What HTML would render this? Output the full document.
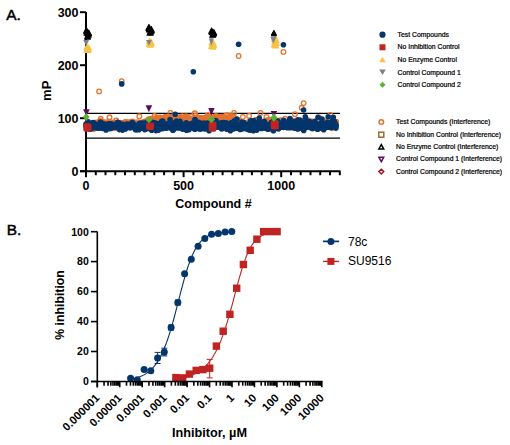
<!DOCTYPE html>
<html><head><meta charset="utf-8"><style>
html,body{margin:0;padding:0;background:#fff;width:510px;height:445px;overflow:hidden}
svg{display:block}
</style></head><body>
<svg width="510" height="445" viewBox="0 0 510 445">
<g stroke="#000" stroke-width="2" fill="none">
<path d="M86.0 12V177"/>
<path d="M80 171.2H340.5"/>
<path d="M80 171.2H86.0"/>
<path d="M80 118.2H86.0"/>
<path d="M80 65.2H86.0"/>
<path d="M80 12.2H86.0"/>
<path d="M86.0 171.2V177.2"/>
<path d="M95.8 171.2V175.2"/>
<path d="M105.5 171.2V175.2"/>
<path d="M115.3 171.2V175.2"/>
<path d="M125.0 171.2V175.2"/>
<path d="M134.8 171.2V175.2"/>
<path d="M144.6 171.2V175.2"/>
<path d="M154.3 171.2V175.2"/>
<path d="M164.1 171.2V175.2"/>
<path d="M173.8 171.2V175.2"/>
<path d="M183.6 171.2V177.2"/>
<path d="M193.4 171.2V175.2"/>
<path d="M203.1 171.2V175.2"/>
<path d="M212.9 171.2V175.2"/>
<path d="M222.6 171.2V175.2"/>
<path d="M232.4 171.2V175.2"/>
<path d="M242.2 171.2V175.2"/>
<path d="M251.9 171.2V175.2"/>
<path d="M261.7 171.2V175.2"/>
<path d="M271.4 171.2V175.2"/>
<path d="M281.2 171.2V177.2"/>
<path d="M291.0 171.2V175.2"/>
<path d="M300.7 171.2V175.2"/>
<path d="M310.5 171.2V175.2"/>
<path d="M320.2 171.2V175.2"/>
<path d="M330.0 171.2V175.2"/>
<path d="M339.8 171.2V175.2"/>
</g>
<g stroke="#000" stroke-width="1.2"><path d="M86 113.3H340"/><path d="M86 138.1H340"/></g>
<circle cx="86.0" cy="124.6" r="2.3" fill="none" stroke="#E2742F" stroke-width="1.45"/>
<circle cx="86.3" cy="124.0" r="2.3" fill="none" stroke="#E2742F" stroke-width="1.45"/>
<circle cx="86.6" cy="125.1" r="2.3" fill="none" stroke="#E2742F" stroke-width="1.45"/>
<circle cx="86.9" cy="126.2" r="2.3" fill="none" stroke="#E2742F" stroke-width="1.45"/>
<circle cx="87.2" cy="125.4" r="2.3" fill="none" stroke="#E2742F" stroke-width="1.45"/>
<circle cx="87.5" cy="126.3" r="2.3" fill="none" stroke="#E2742F" stroke-width="1.45"/>
<circle cx="87.8" cy="124.5" r="2.3" fill="none" stroke="#E2742F" stroke-width="1.45"/>
<circle cx="88.0" cy="122.1" r="2.3" fill="none" stroke="#E2742F" stroke-width="1.45"/>
<circle cx="88.3" cy="125.4" r="2.3" fill="none" stroke="#E2742F" stroke-width="1.45"/>
<circle cx="88.6" cy="125.7" r="2.3" fill="none" stroke="#E2742F" stroke-width="1.45"/>
<circle cx="88.9" cy="123.7" r="2.3" fill="none" stroke="#E2742F" stroke-width="1.45"/>
<circle cx="89.2" cy="123.9" r="2.3" fill="none" stroke="#E2742F" stroke-width="1.45"/>
<circle cx="89.5" cy="124.4" r="2.3" fill="none" stroke="#E2742F" stroke-width="1.45"/>
<circle cx="89.8" cy="126.2" r="2.3" fill="none" stroke="#E2742F" stroke-width="1.45"/>
<circle cx="90.1" cy="124.6" r="2.3" fill="none" stroke="#E2742F" stroke-width="1.45"/>
<circle cx="90.4" cy="123.3" r="2.3" fill="none" stroke="#E2742F" stroke-width="1.45"/>
<circle cx="90.7" cy="127.0" r="2.3" fill="none" stroke="#E2742F" stroke-width="1.45"/>
<circle cx="91.0" cy="125.4" r="2.3" fill="none" stroke="#E2742F" stroke-width="1.45"/>
<circle cx="91.3" cy="128.0" r="2.3" fill="none" stroke="#E2742F" stroke-width="1.45"/>
<circle cx="91.6" cy="126.9" r="2.3" fill="none" stroke="#E2742F" stroke-width="1.45"/>
<circle cx="91.9" cy="127.9" r="2.3" fill="none" stroke="#E2742F" stroke-width="1.45"/>
<circle cx="92.1" cy="125.0" r="2.3" fill="none" stroke="#E2742F" stroke-width="1.45"/>
<circle cx="92.4" cy="126.8" r="2.3" fill="none" stroke="#E2742F" stroke-width="1.45"/>
<circle cx="92.7" cy="124.1" r="2.3" fill="none" stroke="#E2742F" stroke-width="1.45"/>
<circle cx="93.0" cy="124.3" r="2.3" fill="none" stroke="#E2742F" stroke-width="1.45"/>
<circle cx="93.3" cy="124.9" r="2.3" fill="none" stroke="#E2742F" stroke-width="1.45"/>
<circle cx="93.6" cy="129.1" r="2.3" fill="none" stroke="#E2742F" stroke-width="1.45"/>
<circle cx="93.9" cy="125.5" r="2.3" fill="none" stroke="#E2742F" stroke-width="1.45"/>
<circle cx="94.2" cy="124.6" r="2.3" fill="none" stroke="#E2742F" stroke-width="1.45"/>
<circle cx="94.5" cy="124.4" r="2.3" fill="none" stroke="#E2742F" stroke-width="1.45"/>
<circle cx="94.8" cy="127.3" r="2.3" fill="none" stroke="#E2742F" stroke-width="1.45"/>
<circle cx="95.1" cy="125.4" r="2.3" fill="none" stroke="#E2742F" stroke-width="1.45"/>
<circle cx="95.4" cy="126.3" r="2.3" fill="none" stroke="#E2742F" stroke-width="1.45"/>
<circle cx="95.7" cy="126.0" r="2.3" fill="none" stroke="#E2742F" stroke-width="1.45"/>
<circle cx="96.0" cy="122.6" r="2.3" fill="none" stroke="#E2742F" stroke-width="1.45"/>
<circle cx="96.2" cy="126.0" r="2.3" fill="none" stroke="#E2742F" stroke-width="1.45"/>
<circle cx="96.5" cy="124.6" r="2.3" fill="none" stroke="#E2742F" stroke-width="1.45"/>
<circle cx="96.8" cy="123.0" r="2.3" fill="none" stroke="#E2742F" stroke-width="1.45"/>
<circle cx="97.1" cy="125.6" r="2.3" fill="none" stroke="#E2742F" stroke-width="1.45"/>
<circle cx="97.4" cy="124.8" r="2.3" fill="none" stroke="#E2742F" stroke-width="1.45"/>
<circle cx="97.7" cy="124.4" r="2.3" fill="none" stroke="#E2742F" stroke-width="1.45"/>
<circle cx="98.0" cy="124.4" r="2.3" fill="none" stroke="#E2742F" stroke-width="1.45"/>
<circle cx="98.3" cy="126.8" r="2.3" fill="none" stroke="#E2742F" stroke-width="1.45"/>
<circle cx="98.6" cy="124.4" r="2.3" fill="none" stroke="#E2742F" stroke-width="1.45"/>
<circle cx="98.9" cy="122.1" r="2.3" fill="none" stroke="#E2742F" stroke-width="1.45"/>
<circle cx="99.2" cy="127.3" r="2.3" fill="none" stroke="#E2742F" stroke-width="1.45"/>
<circle cx="99.5" cy="123.0" r="2.3" fill="none" stroke="#E2742F" stroke-width="1.45"/>
<circle cx="99.8" cy="124.3" r="2.3" fill="none" stroke="#E2742F" stroke-width="1.45"/>
<circle cx="100.1" cy="125.7" r="2.3" fill="none" stroke="#E2742F" stroke-width="1.45"/>
<circle cx="100.3" cy="121.0" r="2.3" fill="none" stroke="#E2742F" stroke-width="1.45"/>
<circle cx="100.6" cy="123.2" r="2.3" fill="none" stroke="#E2742F" stroke-width="1.45"/>
<circle cx="100.9" cy="126.7" r="2.3" fill="none" stroke="#E2742F" stroke-width="1.45"/>
<circle cx="101.2" cy="124.4" r="2.3" fill="none" stroke="#E2742F" stroke-width="1.45"/>
<circle cx="101.5" cy="123.5" r="2.3" fill="none" stroke="#E2742F" stroke-width="1.45"/>
<circle cx="101.8" cy="124.9" r="2.3" fill="none" stroke="#E2742F" stroke-width="1.45"/>
<circle cx="102.1" cy="123.3" r="2.3" fill="none" stroke="#E2742F" stroke-width="1.45"/>
<circle cx="102.4" cy="124.7" r="2.3" fill="none" stroke="#E2742F" stroke-width="1.45"/>
<circle cx="102.7" cy="123.4" r="2.3" fill="none" stroke="#E2742F" stroke-width="1.45"/>
<circle cx="103.0" cy="122.0" r="2.3" fill="none" stroke="#E2742F" stroke-width="1.45"/>
<circle cx="103.3" cy="125.8" r="2.3" fill="none" stroke="#E2742F" stroke-width="1.45"/>
<circle cx="103.6" cy="124.2" r="2.3" fill="none" stroke="#E2742F" stroke-width="1.45"/>
<circle cx="103.9" cy="125.4" r="2.3" fill="none" stroke="#E2742F" stroke-width="1.45"/>
<circle cx="104.2" cy="124.3" r="2.3" fill="none" stroke="#E2742F" stroke-width="1.45"/>
<circle cx="104.4" cy="126.7" r="2.3" fill="none" stroke="#E2742F" stroke-width="1.45"/>
<circle cx="104.7" cy="125.6" r="2.3" fill="none" stroke="#E2742F" stroke-width="1.45"/>
<circle cx="105.0" cy="124.9" r="2.3" fill="none" stroke="#E2742F" stroke-width="1.45"/>
<circle cx="105.3" cy="122.9" r="2.3" fill="none" stroke="#E2742F" stroke-width="1.45"/>
<circle cx="105.6" cy="122.5" r="2.3" fill="none" stroke="#E2742F" stroke-width="1.45"/>
<circle cx="105.9" cy="126.9" r="2.3" fill="none" stroke="#E2742F" stroke-width="1.45"/>
<circle cx="106.2" cy="126.0" r="2.3" fill="none" stroke="#E2742F" stroke-width="1.45"/>
<circle cx="106.5" cy="123.4" r="2.3" fill="none" stroke="#E2742F" stroke-width="1.45"/>
<circle cx="106.8" cy="128.2" r="2.3" fill="none" stroke="#E2742F" stroke-width="1.45"/>
<circle cx="107.1" cy="125.4" r="2.3" fill="none" stroke="#E2742F" stroke-width="1.45"/>
<circle cx="107.4" cy="124.7" r="2.3" fill="none" stroke="#E2742F" stroke-width="1.45"/>
<circle cx="107.7" cy="122.3" r="2.3" fill="none" stroke="#E2742F" stroke-width="1.45"/>
<circle cx="108.0" cy="123.3" r="2.3" fill="none" stroke="#E2742F" stroke-width="1.45"/>
<circle cx="108.3" cy="125.1" r="2.3" fill="none" stroke="#E2742F" stroke-width="1.45"/>
<circle cx="108.5" cy="125.2" r="2.3" fill="none" stroke="#E2742F" stroke-width="1.45"/>
<circle cx="108.8" cy="125.0" r="2.3" fill="none" stroke="#E2742F" stroke-width="1.45"/>
<circle cx="109.1" cy="121.8" r="2.3" fill="none" stroke="#E2742F" stroke-width="1.45"/>
<circle cx="109.4" cy="125.3" r="2.3" fill="none" stroke="#E2742F" stroke-width="1.45"/>
<circle cx="109.7" cy="125.1" r="2.3" fill="none" stroke="#E2742F" stroke-width="1.45"/>
<circle cx="110.0" cy="123.9" r="2.3" fill="none" stroke="#E2742F" stroke-width="1.45"/>
<circle cx="110.3" cy="124.8" r="2.3" fill="none" stroke="#E2742F" stroke-width="1.45"/>
<circle cx="110.6" cy="124.9" r="2.3" fill="none" stroke="#E2742F" stroke-width="1.45"/>
<circle cx="110.9" cy="126.6" r="2.3" fill="none" stroke="#E2742F" stroke-width="1.45"/>
<circle cx="111.2" cy="124.6" r="2.3" fill="none" stroke="#E2742F" stroke-width="1.45"/>
<circle cx="111.5" cy="125.4" r="2.3" fill="none" stroke="#E2742F" stroke-width="1.45"/>
<circle cx="111.8" cy="122.5" r="2.3" fill="none" stroke="#E2742F" stroke-width="1.45"/>
<circle cx="112.1" cy="123.4" r="2.3" fill="none" stroke="#E2742F" stroke-width="1.45"/>
<circle cx="112.4" cy="124.6" r="2.3" fill="none" stroke="#E2742F" stroke-width="1.45"/>
<circle cx="112.6" cy="123.4" r="2.3" fill="none" stroke="#E2742F" stroke-width="1.45"/>
<circle cx="112.9" cy="125.2" r="2.3" fill="none" stroke="#E2742F" stroke-width="1.45"/>
<circle cx="113.2" cy="122.7" r="2.3" fill="none" stroke="#E2742F" stroke-width="1.45"/>
<circle cx="113.5" cy="124.6" r="2.3" fill="none" stroke="#E2742F" stroke-width="1.45"/>
<circle cx="113.8" cy="123.5" r="2.3" fill="none" stroke="#E2742F" stroke-width="1.45"/>
<circle cx="114.1" cy="126.9" r="2.3" fill="none" stroke="#E2742F" stroke-width="1.45"/>
<circle cx="114.4" cy="123.9" r="2.3" fill="none" stroke="#E2742F" stroke-width="1.45"/>
<circle cx="114.7" cy="127.6" r="2.3" fill="none" stroke="#E2742F" stroke-width="1.45"/>
<circle cx="115.0" cy="128.2" r="2.3" fill="none" stroke="#E2742F" stroke-width="1.45"/>
<circle cx="115.3" cy="125.1" r="2.3" fill="none" stroke="#E2742F" stroke-width="1.45"/>
<circle cx="115.6" cy="126.2" r="2.3" fill="none" stroke="#E2742F" stroke-width="1.45"/>
<circle cx="115.9" cy="124.3" r="2.3" fill="none" stroke="#E2742F" stroke-width="1.45"/>
<circle cx="116.2" cy="120.5" r="2.3" fill="none" stroke="#E2742F" stroke-width="1.45"/>
<circle cx="116.5" cy="126.1" r="2.3" fill="none" stroke="#E2742F" stroke-width="1.45"/>
<circle cx="116.7" cy="125.7" r="2.3" fill="none" stroke="#E2742F" stroke-width="1.45"/>
<circle cx="117.0" cy="124.2" r="2.3" fill="none" stroke="#E2742F" stroke-width="1.45"/>
<circle cx="117.3" cy="123.7" r="2.3" fill="none" stroke="#E2742F" stroke-width="1.45"/>
<circle cx="117.6" cy="124.9" r="2.3" fill="none" stroke="#E2742F" stroke-width="1.45"/>
<circle cx="117.9" cy="124.9" r="2.3" fill="none" stroke="#E2742F" stroke-width="1.45"/>
<circle cx="118.2" cy="123.3" r="2.3" fill="none" stroke="#E2742F" stroke-width="1.45"/>
<circle cx="118.5" cy="123.6" r="2.3" fill="none" stroke="#E2742F" stroke-width="1.45"/>
<circle cx="118.8" cy="126.4" r="2.3" fill="none" stroke="#E2742F" stroke-width="1.45"/>
<circle cx="119.1" cy="124.7" r="2.3" fill="none" stroke="#E2742F" stroke-width="1.45"/>
<circle cx="119.4" cy="124.5" r="2.3" fill="none" stroke="#E2742F" stroke-width="1.45"/>
<circle cx="119.7" cy="126.5" r="2.3" fill="none" stroke="#E2742F" stroke-width="1.45"/>
<circle cx="120.0" cy="124.1" r="2.3" fill="none" stroke="#E2742F" stroke-width="1.45"/>
<circle cx="120.3" cy="126.1" r="2.3" fill="none" stroke="#E2742F" stroke-width="1.45"/>
<circle cx="120.6" cy="122.8" r="2.3" fill="none" stroke="#E2742F" stroke-width="1.45"/>
<circle cx="120.8" cy="124.2" r="2.3" fill="none" stroke="#E2742F" stroke-width="1.45"/>
<circle cx="121.1" cy="124.4" r="2.3" fill="none" stroke="#E2742F" stroke-width="1.45"/>
<circle cx="121.4" cy="125.6" r="2.3" fill="none" stroke="#E2742F" stroke-width="1.45"/>
<circle cx="121.7" cy="124.8" r="2.3" fill="none" stroke="#E2742F" stroke-width="1.45"/>
<circle cx="122.0" cy="128.2" r="2.3" fill="none" stroke="#E2742F" stroke-width="1.45"/>
<circle cx="122.3" cy="126.6" r="2.3" fill="none" stroke="#E2742F" stroke-width="1.45"/>
<circle cx="122.6" cy="123.9" r="2.3" fill="none" stroke="#E2742F" stroke-width="1.45"/>
<circle cx="122.9" cy="128.4" r="2.3" fill="none" stroke="#E2742F" stroke-width="1.45"/>
<circle cx="123.2" cy="123.0" r="2.3" fill="none" stroke="#E2742F" stroke-width="1.45"/>
<circle cx="123.5" cy="127.7" r="2.3" fill="none" stroke="#E2742F" stroke-width="1.45"/>
<circle cx="123.8" cy="123.2" r="2.3" fill="none" stroke="#E2742F" stroke-width="1.45"/>
<circle cx="124.1" cy="126.1" r="2.3" fill="none" stroke="#E2742F" stroke-width="1.45"/>
<circle cx="124.4" cy="123.2" r="2.3" fill="none" stroke="#E2742F" stroke-width="1.45"/>
<circle cx="124.6" cy="124.3" r="2.3" fill="none" stroke="#E2742F" stroke-width="1.45"/>
<circle cx="124.9" cy="127.3" r="2.3" fill="none" stroke="#E2742F" stroke-width="1.45"/>
<circle cx="125.2" cy="122.3" r="2.3" fill="none" stroke="#E2742F" stroke-width="1.45"/>
<circle cx="125.5" cy="122.0" r="2.3" fill="none" stroke="#E2742F" stroke-width="1.45"/>
<circle cx="125.8" cy="124.7" r="2.3" fill="none" stroke="#E2742F" stroke-width="1.45"/>
<circle cx="126.1" cy="125.1" r="2.3" fill="none" stroke="#E2742F" stroke-width="1.45"/>
<circle cx="126.4" cy="124.8" r="2.3" fill="none" stroke="#E2742F" stroke-width="1.45"/>
<circle cx="126.7" cy="126.3" r="2.3" fill="none" stroke="#E2742F" stroke-width="1.45"/>
<circle cx="127.0" cy="122.6" r="2.3" fill="none" stroke="#E2742F" stroke-width="1.45"/>
<circle cx="127.3" cy="125.5" r="2.3" fill="none" stroke="#E2742F" stroke-width="1.45"/>
<circle cx="127.6" cy="124.7" r="2.3" fill="none" stroke="#E2742F" stroke-width="1.45"/>
<circle cx="127.9" cy="126.0" r="2.3" fill="none" stroke="#E2742F" stroke-width="1.45"/>
<circle cx="128.2" cy="125.7" r="2.3" fill="none" stroke="#E2742F" stroke-width="1.45"/>
<circle cx="128.5" cy="126.9" r="2.3" fill="none" stroke="#E2742F" stroke-width="1.45"/>
<circle cx="128.7" cy="122.3" r="2.3" fill="none" stroke="#E2742F" stroke-width="1.45"/>
<circle cx="129.0" cy="124.8" r="2.3" fill="none" stroke="#E2742F" stroke-width="1.45"/>
<circle cx="129.3" cy="122.8" r="2.3" fill="none" stroke="#E2742F" stroke-width="1.45"/>
<circle cx="129.6" cy="124.5" r="2.3" fill="none" stroke="#E2742F" stroke-width="1.45"/>
<circle cx="129.9" cy="125.8" r="2.3" fill="none" stroke="#E2742F" stroke-width="1.45"/>
<circle cx="130.2" cy="125.1" r="2.3" fill="none" stroke="#E2742F" stroke-width="1.45"/>
<circle cx="130.5" cy="125.6" r="2.3" fill="none" stroke="#E2742F" stroke-width="1.45"/>
<circle cx="130.8" cy="124.5" r="2.3" fill="none" stroke="#E2742F" stroke-width="1.45"/>
<circle cx="131.1" cy="125.2" r="2.3" fill="none" stroke="#E2742F" stroke-width="1.45"/>
<circle cx="131.4" cy="125.1" r="2.3" fill="none" stroke="#E2742F" stroke-width="1.45"/>
<circle cx="131.7" cy="127.0" r="2.3" fill="none" stroke="#E2742F" stroke-width="1.45"/>
<circle cx="132.0" cy="126.0" r="2.3" fill="none" stroke="#E2742F" stroke-width="1.45"/>
<circle cx="132.3" cy="121.6" r="2.3" fill="none" stroke="#E2742F" stroke-width="1.45"/>
<circle cx="132.6" cy="125.8" r="2.3" fill="none" stroke="#E2742F" stroke-width="1.45"/>
<circle cx="132.8" cy="126.5" r="2.3" fill="none" stroke="#E2742F" stroke-width="1.45"/>
<circle cx="133.1" cy="124.0" r="2.3" fill="none" stroke="#E2742F" stroke-width="1.45"/>
<circle cx="133.4" cy="122.0" r="2.3" fill="none" stroke="#E2742F" stroke-width="1.45"/>
<circle cx="133.7" cy="127.2" r="2.3" fill="none" stroke="#E2742F" stroke-width="1.45"/>
<circle cx="134.0" cy="124.9" r="2.3" fill="none" stroke="#E2742F" stroke-width="1.45"/>
<circle cx="134.3" cy="125.7" r="2.3" fill="none" stroke="#E2742F" stroke-width="1.45"/>
<circle cx="134.6" cy="127.7" r="2.3" fill="none" stroke="#E2742F" stroke-width="1.45"/>
<circle cx="134.9" cy="123.2" r="2.3" fill="none" stroke="#E2742F" stroke-width="1.45"/>
<circle cx="135.2" cy="124.6" r="2.3" fill="none" stroke="#E2742F" stroke-width="1.45"/>
<circle cx="135.5" cy="124.4" r="2.3" fill="none" stroke="#E2742F" stroke-width="1.45"/>
<circle cx="135.8" cy="125.9" r="2.3" fill="none" stroke="#E2742F" stroke-width="1.45"/>
<circle cx="136.1" cy="123.7" r="2.3" fill="none" stroke="#E2742F" stroke-width="1.45"/>
<circle cx="136.4" cy="125.5" r="2.3" fill="none" stroke="#E2742F" stroke-width="1.45"/>
<circle cx="136.7" cy="124.8" r="2.3" fill="none" stroke="#E2742F" stroke-width="1.45"/>
<circle cx="136.9" cy="126.6" r="2.3" fill="none" stroke="#E2742F" stroke-width="1.45"/>
<circle cx="137.2" cy="126.8" r="2.3" fill="none" stroke="#E2742F" stroke-width="1.45"/>
<circle cx="137.5" cy="122.2" r="2.3" fill="none" stroke="#E2742F" stroke-width="1.45"/>
<circle cx="137.8" cy="125.5" r="2.3" fill="none" stroke="#E2742F" stroke-width="1.45"/>
<circle cx="138.1" cy="124.0" r="2.3" fill="none" stroke="#E2742F" stroke-width="1.45"/>
<circle cx="138.4" cy="124.6" r="2.3" fill="none" stroke="#E2742F" stroke-width="1.45"/>
<circle cx="138.7" cy="125.4" r="2.3" fill="none" stroke="#E2742F" stroke-width="1.45"/>
<circle cx="139.0" cy="125.5" r="2.3" fill="none" stroke="#E2742F" stroke-width="1.45"/>
<circle cx="139.3" cy="123.4" r="2.3" fill="none" stroke="#E2742F" stroke-width="1.45"/>
<circle cx="139.6" cy="125.1" r="2.3" fill="none" stroke="#E2742F" stroke-width="1.45"/>
<circle cx="139.9" cy="124.8" r="2.3" fill="none" stroke="#E2742F" stroke-width="1.45"/>
<circle cx="140.2" cy="124.5" r="2.3" fill="none" stroke="#E2742F" stroke-width="1.45"/>
<circle cx="140.5" cy="122.4" r="2.3" fill="none" stroke="#E2742F" stroke-width="1.45"/>
<circle cx="140.8" cy="123.3" r="2.3" fill="none" stroke="#E2742F" stroke-width="1.45"/>
<circle cx="141.0" cy="123.9" r="2.3" fill="none" stroke="#E2742F" stroke-width="1.45"/>
<circle cx="141.3" cy="125.6" r="2.3" fill="none" stroke="#E2742F" stroke-width="1.45"/>
<circle cx="141.6" cy="127.1" r="2.3" fill="none" stroke="#E2742F" stroke-width="1.45"/>
<circle cx="141.9" cy="122.8" r="2.3" fill="none" stroke="#E2742F" stroke-width="1.45"/>
<circle cx="142.2" cy="122.8" r="2.3" fill="none" stroke="#E2742F" stroke-width="1.45"/>
<circle cx="142.5" cy="124.8" r="2.3" fill="none" stroke="#E2742F" stroke-width="1.45"/>
<circle cx="142.8" cy="123.6" r="2.3" fill="none" stroke="#E2742F" stroke-width="1.45"/>
<circle cx="143.1" cy="123.2" r="2.3" fill="none" stroke="#E2742F" stroke-width="1.45"/>
<circle cx="143.4" cy="123.1" r="2.3" fill="none" stroke="#E2742F" stroke-width="1.45"/>
<circle cx="143.7" cy="122.9" r="2.3" fill="none" stroke="#E2742F" stroke-width="1.45"/>
<circle cx="144.0" cy="125.4" r="2.3" fill="none" stroke="#E2742F" stroke-width="1.45"/>
<circle cx="144.3" cy="121.8" r="2.3" fill="none" stroke="#E2742F" stroke-width="1.45"/>
<circle cx="144.6" cy="126.8" r="2.3" fill="none" stroke="#E2742F" stroke-width="1.45"/>
<circle cx="144.9" cy="123.0" r="2.3" fill="none" stroke="#E2742F" stroke-width="1.45"/>
<circle cx="145.1" cy="123.7" r="2.3" fill="none" stroke="#E2742F" stroke-width="1.45"/>
<circle cx="145.4" cy="123.0" r="2.3" fill="none" stroke="#E2742F" stroke-width="1.45"/>
<circle cx="145.7" cy="121.2" r="2.3" fill="none" stroke="#E2742F" stroke-width="1.45"/>
<circle cx="146.0" cy="121.9" r="2.3" fill="none" stroke="#E2742F" stroke-width="1.45"/>
<circle cx="146.3" cy="126.6" r="2.3" fill="none" stroke="#E2742F" stroke-width="1.45"/>
<circle cx="146.6" cy="127.6" r="2.3" fill="none" stroke="#E2742F" stroke-width="1.45"/>
<circle cx="146.9" cy="123.1" r="2.3" fill="none" stroke="#E2742F" stroke-width="1.45"/>
<circle cx="147.2" cy="126.4" r="2.3" fill="none" stroke="#E2742F" stroke-width="1.45"/>
<circle cx="147.5" cy="124.6" r="2.3" fill="none" stroke="#E2742F" stroke-width="1.45"/>
<circle cx="147.8" cy="123.0" r="2.3" fill="none" stroke="#E2742F" stroke-width="1.45"/>
<circle cx="148.1" cy="127.5" r="2.3" fill="none" stroke="#E2742F" stroke-width="1.45"/>
<circle cx="148.4" cy="128.4" r="2.3" fill="none" stroke="#E2742F" stroke-width="1.45"/>
<circle cx="148.7" cy="119.3" r="2.3" fill="none" stroke="#E2742F" stroke-width="1.45"/>
<circle cx="149.0" cy="119.7" r="2.3" fill="none" stroke="#E2742F" stroke-width="1.45"/>
<circle cx="149.2" cy="120.2" r="2.3" fill="none" stroke="#E2742F" stroke-width="1.45"/>
<circle cx="149.5" cy="119.7" r="2.3" fill="none" stroke="#E2742F" stroke-width="1.45"/>
<circle cx="149.8" cy="121.3" r="2.3" fill="none" stroke="#E2742F" stroke-width="1.45"/>
<circle cx="150.1" cy="122.5" r="2.3" fill="none" stroke="#E2742F" stroke-width="1.45"/>
<circle cx="150.4" cy="120.1" r="2.3" fill="none" stroke="#E2742F" stroke-width="1.45"/>
<circle cx="150.7" cy="121.5" r="2.3" fill="none" stroke="#E2742F" stroke-width="1.45"/>
<circle cx="151.0" cy="122.8" r="2.3" fill="none" stroke="#E2742F" stroke-width="1.45"/>
<circle cx="151.3" cy="118.9" r="2.3" fill="none" stroke="#E2742F" stroke-width="1.45"/>
<circle cx="151.6" cy="119.9" r="2.3" fill="none" stroke="#E2742F" stroke-width="1.45"/>
<circle cx="151.9" cy="119.1" r="2.3" fill="none" stroke="#E2742F" stroke-width="1.45"/>
<circle cx="152.2" cy="121.6" r="2.3" fill="none" stroke="#E2742F" stroke-width="1.45"/>
<circle cx="152.5" cy="121.0" r="2.3" fill="none" stroke="#E2742F" stroke-width="1.45"/>
<circle cx="152.8" cy="121.6" r="2.3" fill="none" stroke="#E2742F" stroke-width="1.45"/>
<circle cx="153.1" cy="121.4" r="2.3" fill="none" stroke="#E2742F" stroke-width="1.45"/>
<circle cx="153.3" cy="119.4" r="2.3" fill="none" stroke="#E2742F" stroke-width="1.45"/>
<circle cx="153.6" cy="121.2" r="2.3" fill="none" stroke="#E2742F" stroke-width="1.45"/>
<circle cx="153.9" cy="119.1" r="2.3" fill="none" stroke="#E2742F" stroke-width="1.45"/>
<circle cx="154.2" cy="119.2" r="2.3" fill="none" stroke="#E2742F" stroke-width="1.45"/>
<circle cx="154.5" cy="116.1" r="2.3" fill="none" stroke="#E2742F" stroke-width="1.45"/>
<circle cx="154.8" cy="122.3" r="2.3" fill="none" stroke="#E2742F" stroke-width="1.45"/>
<circle cx="155.1" cy="118.2" r="2.3" fill="none" stroke="#E2742F" stroke-width="1.45"/>
<circle cx="155.4" cy="120.0" r="2.3" fill="none" stroke="#E2742F" stroke-width="1.45"/>
<circle cx="155.7" cy="119.8" r="2.3" fill="none" stroke="#E2742F" stroke-width="1.45"/>
<circle cx="156.0" cy="122.4" r="2.3" fill="none" stroke="#E2742F" stroke-width="1.45"/>
<circle cx="156.3" cy="120.6" r="2.3" fill="none" stroke="#E2742F" stroke-width="1.45"/>
<circle cx="156.6" cy="118.5" r="2.3" fill="none" stroke="#E2742F" stroke-width="1.45"/>
<circle cx="156.9" cy="119.9" r="2.3" fill="none" stroke="#E2742F" stroke-width="1.45"/>
<circle cx="157.2" cy="119.6" r="2.3" fill="none" stroke="#E2742F" stroke-width="1.45"/>
<circle cx="157.4" cy="120.3" r="2.3" fill="none" stroke="#E2742F" stroke-width="1.45"/>
<circle cx="157.7" cy="117.7" r="2.3" fill="none" stroke="#E2742F" stroke-width="1.45"/>
<circle cx="158.0" cy="119.8" r="2.3" fill="none" stroke="#E2742F" stroke-width="1.45"/>
<circle cx="158.3" cy="123.8" r="2.3" fill="none" stroke="#E2742F" stroke-width="1.45"/>
<circle cx="158.6" cy="121.0" r="2.3" fill="none" stroke="#E2742F" stroke-width="1.45"/>
<circle cx="158.9" cy="123.3" r="2.3" fill="none" stroke="#E2742F" stroke-width="1.45"/>
<circle cx="159.2" cy="125.6" r="2.3" fill="none" stroke="#E2742F" stroke-width="1.45"/>
<circle cx="159.5" cy="120.7" r="2.3" fill="none" stroke="#E2742F" stroke-width="1.45"/>
<circle cx="159.8" cy="117.4" r="2.3" fill="none" stroke="#E2742F" stroke-width="1.45"/>
<circle cx="160.1" cy="119.7" r="2.3" fill="none" stroke="#E2742F" stroke-width="1.45"/>
<circle cx="160.4" cy="121.9" r="2.3" fill="none" stroke="#E2742F" stroke-width="1.45"/>
<circle cx="160.7" cy="121.5" r="2.3" fill="none" stroke="#E2742F" stroke-width="1.45"/>
<circle cx="161.0" cy="117.8" r="2.3" fill="none" stroke="#E2742F" stroke-width="1.45"/>
<circle cx="161.2" cy="119.5" r="2.3" fill="none" stroke="#E2742F" stroke-width="1.45"/>
<circle cx="161.5" cy="119.7" r="2.3" fill="none" stroke="#E2742F" stroke-width="1.45"/>
<circle cx="161.8" cy="119.9" r="2.3" fill="none" stroke="#E2742F" stroke-width="1.45"/>
<circle cx="162.1" cy="119.7" r="2.3" fill="none" stroke="#E2742F" stroke-width="1.45"/>
<circle cx="162.4" cy="118.3" r="2.3" fill="none" stroke="#E2742F" stroke-width="1.45"/>
<circle cx="162.7" cy="118.8" r="2.3" fill="none" stroke="#E2742F" stroke-width="1.45"/>
<circle cx="163.0" cy="119.4" r="2.3" fill="none" stroke="#E2742F" stroke-width="1.45"/>
<circle cx="163.3" cy="121.7" r="2.3" fill="none" stroke="#E2742F" stroke-width="1.45"/>
<circle cx="163.6" cy="118.9" r="2.3" fill="none" stroke="#E2742F" stroke-width="1.45"/>
<circle cx="163.9" cy="121.0" r="2.3" fill="none" stroke="#E2742F" stroke-width="1.45"/>
<circle cx="164.2" cy="117.8" r="2.3" fill="none" stroke="#E2742F" stroke-width="1.45"/>
<circle cx="164.5" cy="122.1" r="2.3" fill="none" stroke="#E2742F" stroke-width="1.45"/>
<circle cx="164.8" cy="120.0" r="2.3" fill="none" stroke="#E2742F" stroke-width="1.45"/>
<circle cx="165.1" cy="119.8" r="2.3" fill="none" stroke="#E2742F" stroke-width="1.45"/>
<circle cx="165.3" cy="122.2" r="2.3" fill="none" stroke="#E2742F" stroke-width="1.45"/>
<circle cx="165.6" cy="116.7" r="2.3" fill="none" stroke="#E2742F" stroke-width="1.45"/>
<circle cx="165.9" cy="117.2" r="2.3" fill="none" stroke="#E2742F" stroke-width="1.45"/>
<circle cx="166.2" cy="120.6" r="2.3" fill="none" stroke="#E2742F" stroke-width="1.45"/>
<circle cx="166.5" cy="118.4" r="2.3" fill="none" stroke="#E2742F" stroke-width="1.45"/>
<circle cx="166.8" cy="119.1" r="2.3" fill="none" stroke="#E2742F" stroke-width="1.45"/>
<circle cx="167.1" cy="124.5" r="2.3" fill="none" stroke="#E2742F" stroke-width="1.45"/>
<circle cx="167.4" cy="119.3" r="2.3" fill="none" stroke="#E2742F" stroke-width="1.45"/>
<circle cx="167.7" cy="119.9" r="2.3" fill="none" stroke="#E2742F" stroke-width="1.45"/>
<circle cx="168.0" cy="119.6" r="2.3" fill="none" stroke="#E2742F" stroke-width="1.45"/>
<circle cx="168.3" cy="121.7" r="2.3" fill="none" stroke="#E2742F" stroke-width="1.45"/>
<circle cx="168.6" cy="120.3" r="2.3" fill="none" stroke="#E2742F" stroke-width="1.45"/>
<circle cx="168.9" cy="120.1" r="2.3" fill="none" stroke="#E2742F" stroke-width="1.45"/>
<circle cx="169.2" cy="117.6" r="2.3" fill="none" stroke="#E2742F" stroke-width="1.45"/>
<circle cx="169.4" cy="119.2" r="2.3" fill="none" stroke="#E2742F" stroke-width="1.45"/>
<circle cx="169.7" cy="119.8" r="2.3" fill="none" stroke="#E2742F" stroke-width="1.45"/>
<circle cx="170.0" cy="117.0" r="2.3" fill="none" stroke="#E2742F" stroke-width="1.45"/>
<circle cx="170.3" cy="120.8" r="2.3" fill="none" stroke="#E2742F" stroke-width="1.45"/>
<circle cx="170.6" cy="120.5" r="2.3" fill="none" stroke="#E2742F" stroke-width="1.45"/>
<circle cx="170.9" cy="123.1" r="2.3" fill="none" stroke="#E2742F" stroke-width="1.45"/>
<circle cx="171.2" cy="117.0" r="2.3" fill="none" stroke="#E2742F" stroke-width="1.45"/>
<circle cx="171.5" cy="118.1" r="2.3" fill="none" stroke="#E2742F" stroke-width="1.45"/>
<circle cx="171.8" cy="118.1" r="2.3" fill="none" stroke="#E2742F" stroke-width="1.45"/>
<circle cx="172.1" cy="118.6" r="2.3" fill="none" stroke="#E2742F" stroke-width="1.45"/>
<circle cx="172.4" cy="119.6" r="2.3" fill="none" stroke="#E2742F" stroke-width="1.45"/>
<circle cx="172.7" cy="119.4" r="2.3" fill="none" stroke="#E2742F" stroke-width="1.45"/>
<circle cx="173.0" cy="120.2" r="2.3" fill="none" stroke="#E2742F" stroke-width="1.45"/>
<circle cx="173.3" cy="120.2" r="2.3" fill="none" stroke="#E2742F" stroke-width="1.45"/>
<circle cx="173.5" cy="119.7" r="2.3" fill="none" stroke="#E2742F" stroke-width="1.45"/>
<circle cx="173.8" cy="117.1" r="2.3" fill="none" stroke="#E2742F" stroke-width="1.45"/>
<circle cx="174.1" cy="118.8" r="2.3" fill="none" stroke="#E2742F" stroke-width="1.45"/>
<circle cx="174.4" cy="119.9" r="2.3" fill="none" stroke="#E2742F" stroke-width="1.45"/>
<circle cx="174.7" cy="120.8" r="2.3" fill="none" stroke="#E2742F" stroke-width="1.45"/>
<circle cx="175.0" cy="120.9" r="2.3" fill="none" stroke="#E2742F" stroke-width="1.45"/>
<circle cx="175.3" cy="116.9" r="2.3" fill="none" stroke="#E2742F" stroke-width="1.45"/>
<circle cx="175.6" cy="118.9" r="2.3" fill="none" stroke="#E2742F" stroke-width="1.45"/>
<circle cx="175.9" cy="119.7" r="2.3" fill="none" stroke="#E2742F" stroke-width="1.45"/>
<circle cx="176.2" cy="120.4" r="2.3" fill="none" stroke="#E2742F" stroke-width="1.45"/>
<circle cx="176.5" cy="121.8" r="2.3" fill="none" stroke="#E2742F" stroke-width="1.45"/>
<circle cx="176.8" cy="119.9" r="2.3" fill="none" stroke="#E2742F" stroke-width="1.45"/>
<circle cx="177.1" cy="118.2" r="2.3" fill="none" stroke="#E2742F" stroke-width="1.45"/>
<circle cx="177.4" cy="120.5" r="2.3" fill="none" stroke="#E2742F" stroke-width="1.45"/>
<circle cx="177.6" cy="120.2" r="2.3" fill="none" stroke="#E2742F" stroke-width="1.45"/>
<circle cx="177.9" cy="120.2" r="2.3" fill="none" stroke="#E2742F" stroke-width="1.45"/>
<circle cx="178.2" cy="119.6" r="2.3" fill="none" stroke="#E2742F" stroke-width="1.45"/>
<circle cx="178.5" cy="122.7" r="2.3" fill="none" stroke="#E2742F" stroke-width="1.45"/>
<circle cx="178.8" cy="120.2" r="2.3" fill="none" stroke="#E2742F" stroke-width="1.45"/>
<circle cx="179.1" cy="121.3" r="2.3" fill="none" stroke="#E2742F" stroke-width="1.45"/>
<circle cx="179.4" cy="118.2" r="2.3" fill="none" stroke="#E2742F" stroke-width="1.45"/>
<circle cx="179.7" cy="121.2" r="2.3" fill="none" stroke="#E2742F" stroke-width="1.45"/>
<circle cx="180.0" cy="118.8" r="2.3" fill="none" stroke="#E2742F" stroke-width="1.45"/>
<circle cx="180.3" cy="117.0" r="2.3" fill="none" stroke="#E2742F" stroke-width="1.45"/>
<circle cx="180.6" cy="120.4" r="2.3" fill="none" stroke="#E2742F" stroke-width="1.45"/>
<circle cx="180.9" cy="120.9" r="2.3" fill="none" stroke="#E2742F" stroke-width="1.45"/>
<circle cx="181.2" cy="119.4" r="2.3" fill="none" stroke="#E2742F" stroke-width="1.45"/>
<circle cx="181.5" cy="119.8" r="2.3" fill="none" stroke="#E2742F" stroke-width="1.45"/>
<circle cx="181.7" cy="121.6" r="2.3" fill="none" stroke="#E2742F" stroke-width="1.45"/>
<circle cx="182.0" cy="119.0" r="2.3" fill="none" stroke="#E2742F" stroke-width="1.45"/>
<circle cx="182.3" cy="116.2" r="2.3" fill="none" stroke="#E2742F" stroke-width="1.45"/>
<circle cx="182.6" cy="120.3" r="2.3" fill="none" stroke="#E2742F" stroke-width="1.45"/>
<circle cx="182.9" cy="120.2" r="2.3" fill="none" stroke="#E2742F" stroke-width="1.45"/>
<circle cx="183.2" cy="121.7" r="2.3" fill="none" stroke="#E2742F" stroke-width="1.45"/>
<circle cx="183.5" cy="119.2" r="2.3" fill="none" stroke="#E2742F" stroke-width="1.45"/>
<circle cx="183.8" cy="122.0" r="2.3" fill="none" stroke="#E2742F" stroke-width="1.45"/>
<circle cx="184.1" cy="121.8" r="2.3" fill="none" stroke="#E2742F" stroke-width="1.45"/>
<circle cx="184.4" cy="117.5" r="2.3" fill="none" stroke="#E2742F" stroke-width="1.45"/>
<circle cx="184.7" cy="121.4" r="2.3" fill="none" stroke="#E2742F" stroke-width="1.45"/>
<circle cx="185.0" cy="117.8" r="2.3" fill="none" stroke="#E2742F" stroke-width="1.45"/>
<circle cx="185.3" cy="117.0" r="2.3" fill="none" stroke="#E2742F" stroke-width="1.45"/>
<circle cx="185.6" cy="119.3" r="2.3" fill="none" stroke="#E2742F" stroke-width="1.45"/>
<circle cx="185.8" cy="118.8" r="2.3" fill="none" stroke="#E2742F" stroke-width="1.45"/>
<circle cx="186.1" cy="116.3" r="2.3" fill="none" stroke="#E2742F" stroke-width="1.45"/>
<circle cx="186.4" cy="120.1" r="2.3" fill="none" stroke="#E2742F" stroke-width="1.45"/>
<circle cx="186.7" cy="120.9" r="2.3" fill="none" stroke="#E2742F" stroke-width="1.45"/>
<circle cx="187.0" cy="122.2" r="2.3" fill="none" stroke="#E2742F" stroke-width="1.45"/>
<circle cx="187.3" cy="119.7" r="2.3" fill="none" stroke="#E2742F" stroke-width="1.45"/>
<circle cx="187.6" cy="117.1" r="2.3" fill="none" stroke="#E2742F" stroke-width="1.45"/>
<circle cx="187.9" cy="118.1" r="2.3" fill="none" stroke="#E2742F" stroke-width="1.45"/>
<circle cx="188.2" cy="121.5" r="2.3" fill="none" stroke="#E2742F" stroke-width="1.45"/>
<circle cx="188.5" cy="121.3" r="2.3" fill="none" stroke="#E2742F" stroke-width="1.45"/>
<circle cx="188.8" cy="120.7" r="2.3" fill="none" stroke="#E2742F" stroke-width="1.45"/>
<circle cx="189.1" cy="119.3" r="2.3" fill="none" stroke="#E2742F" stroke-width="1.45"/>
<circle cx="189.4" cy="120.2" r="2.3" fill="none" stroke="#E2742F" stroke-width="1.45"/>
<circle cx="189.7" cy="119.4" r="2.3" fill="none" stroke="#E2742F" stroke-width="1.45"/>
<circle cx="189.9" cy="119.3" r="2.3" fill="none" stroke="#E2742F" stroke-width="1.45"/>
<circle cx="190.2" cy="120.3" r="2.3" fill="none" stroke="#E2742F" stroke-width="1.45"/>
<circle cx="190.5" cy="119.9" r="2.3" fill="none" stroke="#E2742F" stroke-width="1.45"/>
<circle cx="190.8" cy="119.4" r="2.3" fill="none" stroke="#E2742F" stroke-width="1.45"/>
<circle cx="191.1" cy="119.9" r="2.3" fill="none" stroke="#E2742F" stroke-width="1.45"/>
<circle cx="191.4" cy="118.9" r="2.3" fill="none" stroke="#E2742F" stroke-width="1.45"/>
<circle cx="191.7" cy="116.4" r="2.3" fill="none" stroke="#E2742F" stroke-width="1.45"/>
<circle cx="192.0" cy="118.7" r="2.3" fill="none" stroke="#E2742F" stroke-width="1.45"/>
<circle cx="192.3" cy="119.7" r="2.3" fill="none" stroke="#E2742F" stroke-width="1.45"/>
<circle cx="192.6" cy="122.8" r="2.3" fill="none" stroke="#E2742F" stroke-width="1.45"/>
<circle cx="192.9" cy="119.1" r="2.3" fill="none" stroke="#E2742F" stroke-width="1.45"/>
<circle cx="193.2" cy="123.3" r="2.3" fill="none" stroke="#E2742F" stroke-width="1.45"/>
<circle cx="193.5" cy="122.3" r="2.3" fill="none" stroke="#E2742F" stroke-width="1.45"/>
<circle cx="193.8" cy="118.2" r="2.3" fill="none" stroke="#E2742F" stroke-width="1.45"/>
<circle cx="194.0" cy="118.5" r="2.3" fill="none" stroke="#E2742F" stroke-width="1.45"/>
<circle cx="194.3" cy="120.1" r="2.3" fill="none" stroke="#E2742F" stroke-width="1.45"/>
<circle cx="194.6" cy="122.9" r="2.3" fill="none" stroke="#E2742F" stroke-width="1.45"/>
<circle cx="194.9" cy="120.5" r="2.3" fill="none" stroke="#E2742F" stroke-width="1.45"/>
<circle cx="195.2" cy="121.0" r="2.3" fill="none" stroke="#E2742F" stroke-width="1.45"/>
<circle cx="195.5" cy="118.6" r="2.3" fill="none" stroke="#E2742F" stroke-width="1.45"/>
<circle cx="195.8" cy="115.7" r="2.3" fill="none" stroke="#E2742F" stroke-width="1.45"/>
<circle cx="196.1" cy="119.4" r="2.3" fill="none" stroke="#E2742F" stroke-width="1.45"/>
<circle cx="196.4" cy="121.2" r="2.3" fill="none" stroke="#E2742F" stroke-width="1.45"/>
<circle cx="196.7" cy="121.9" r="2.3" fill="none" stroke="#E2742F" stroke-width="1.45"/>
<circle cx="197.0" cy="119.9" r="2.3" fill="none" stroke="#E2742F" stroke-width="1.45"/>
<circle cx="197.3" cy="120.1" r="2.3" fill="none" stroke="#E2742F" stroke-width="1.45"/>
<circle cx="197.6" cy="121.9" r="2.3" fill="none" stroke="#E2742F" stroke-width="1.45"/>
<circle cx="197.8" cy="119.6" r="2.3" fill="none" stroke="#E2742F" stroke-width="1.45"/>
<circle cx="198.1" cy="121.9" r="2.3" fill="none" stroke="#E2742F" stroke-width="1.45"/>
<circle cx="198.4" cy="117.8" r="2.3" fill="none" stroke="#E2742F" stroke-width="1.45"/>
<circle cx="198.7" cy="117.9" r="2.3" fill="none" stroke="#E2742F" stroke-width="1.45"/>
<circle cx="199.0" cy="117.8" r="2.3" fill="none" stroke="#E2742F" stroke-width="1.45"/>
<circle cx="199.3" cy="120.6" r="2.3" fill="none" stroke="#E2742F" stroke-width="1.45"/>
<circle cx="199.6" cy="118.9" r="2.3" fill="none" stroke="#E2742F" stroke-width="1.45"/>
<circle cx="199.9" cy="120.0" r="2.3" fill="none" stroke="#E2742F" stroke-width="1.45"/>
<circle cx="200.2" cy="120.5" r="2.3" fill="none" stroke="#E2742F" stroke-width="1.45"/>
<circle cx="200.5" cy="120.4" r="2.3" fill="none" stroke="#E2742F" stroke-width="1.45"/>
<circle cx="200.8" cy="122.1" r="2.3" fill="none" stroke="#E2742F" stroke-width="1.45"/>
<circle cx="201.1" cy="122.4" r="2.3" fill="none" stroke="#E2742F" stroke-width="1.45"/>
<circle cx="201.4" cy="118.4" r="2.3" fill="none" stroke="#E2742F" stroke-width="1.45"/>
<circle cx="201.7" cy="120.1" r="2.3" fill="none" stroke="#E2742F" stroke-width="1.45"/>
<circle cx="201.9" cy="119.4" r="2.3" fill="none" stroke="#E2742F" stroke-width="1.45"/>
<circle cx="202.2" cy="118.0" r="2.3" fill="none" stroke="#E2742F" stroke-width="1.45"/>
<circle cx="202.5" cy="122.9" r="2.3" fill="none" stroke="#E2742F" stroke-width="1.45"/>
<circle cx="202.8" cy="121.2" r="2.3" fill="none" stroke="#E2742F" stroke-width="1.45"/>
<circle cx="203.1" cy="119.5" r="2.3" fill="none" stroke="#E2742F" stroke-width="1.45"/>
<circle cx="203.4" cy="119.1" r="2.3" fill="none" stroke="#E2742F" stroke-width="1.45"/>
<circle cx="203.7" cy="120.5" r="2.3" fill="none" stroke="#E2742F" stroke-width="1.45"/>
<circle cx="204.0" cy="117.9" r="2.3" fill="none" stroke="#E2742F" stroke-width="1.45"/>
<circle cx="204.3" cy="119.4" r="2.3" fill="none" stroke="#E2742F" stroke-width="1.45"/>
<circle cx="204.6" cy="122.0" r="2.3" fill="none" stroke="#E2742F" stroke-width="1.45"/>
<circle cx="204.9" cy="121.5" r="2.3" fill="none" stroke="#E2742F" stroke-width="1.45"/>
<circle cx="205.2" cy="118.3" r="2.3" fill="none" stroke="#E2742F" stroke-width="1.45"/>
<circle cx="205.5" cy="119.0" r="2.3" fill="none" stroke="#E2742F" stroke-width="1.45"/>
<circle cx="205.8" cy="123.2" r="2.3" fill="none" stroke="#E2742F" stroke-width="1.45"/>
<circle cx="206.0" cy="117.4" r="2.3" fill="none" stroke="#E2742F" stroke-width="1.45"/>
<circle cx="206.3" cy="118.7" r="2.3" fill="none" stroke="#E2742F" stroke-width="1.45"/>
<circle cx="206.6" cy="117.4" r="2.3" fill="none" stroke="#E2742F" stroke-width="1.45"/>
<circle cx="206.9" cy="120.5" r="2.3" fill="none" stroke="#E2742F" stroke-width="1.45"/>
<circle cx="207.2" cy="120.3" r="2.3" fill="none" stroke="#E2742F" stroke-width="1.45"/>
<circle cx="207.5" cy="121.8" r="2.3" fill="none" stroke="#E2742F" stroke-width="1.45"/>
<circle cx="207.8" cy="115.2" r="2.3" fill="none" stroke="#E2742F" stroke-width="1.45"/>
<circle cx="208.1" cy="120.1" r="2.3" fill="none" stroke="#E2742F" stroke-width="1.45"/>
<circle cx="208.4" cy="116.9" r="2.3" fill="none" stroke="#E2742F" stroke-width="1.45"/>
<circle cx="208.7" cy="121.0" r="2.3" fill="none" stroke="#E2742F" stroke-width="1.45"/>
<circle cx="209.0" cy="119.5" r="2.3" fill="none" stroke="#E2742F" stroke-width="1.45"/>
<circle cx="209.3" cy="122.8" r="2.3" fill="none" stroke="#E2742F" stroke-width="1.45"/>
<circle cx="209.6" cy="120.5" r="2.3" fill="none" stroke="#E2742F" stroke-width="1.45"/>
<circle cx="209.9" cy="118.0" r="2.3" fill="none" stroke="#E2742F" stroke-width="1.45"/>
<circle cx="210.1" cy="122.0" r="2.3" fill="none" stroke="#E2742F" stroke-width="1.45"/>
<circle cx="210.4" cy="117.9" r="2.3" fill="none" stroke="#E2742F" stroke-width="1.45"/>
<circle cx="210.7" cy="119.2" r="2.3" fill="none" stroke="#E2742F" stroke-width="1.45"/>
<circle cx="211.0" cy="120.6" r="2.3" fill="none" stroke="#E2742F" stroke-width="1.45"/>
<circle cx="211.3" cy="119.6" r="2.3" fill="none" stroke="#E2742F" stroke-width="1.45"/>
<circle cx="211.6" cy="119.6" r="2.3" fill="none" stroke="#E2742F" stroke-width="1.45"/>
<circle cx="211.9" cy="118.8" r="2.3" fill="none" stroke="#E2742F" stroke-width="1.45"/>
<circle cx="212.2" cy="119.7" r="2.3" fill="none" stroke="#E2742F" stroke-width="1.45"/>
<circle cx="212.5" cy="120.2" r="2.3" fill="none" stroke="#E2742F" stroke-width="1.45"/>
<circle cx="212.8" cy="119.3" r="2.3" fill="none" stroke="#E2742F" stroke-width="1.45"/>
<circle cx="213.1" cy="120.6" r="2.3" fill="none" stroke="#E2742F" stroke-width="1.45"/>
<circle cx="213.4" cy="121.1" r="2.3" fill="none" stroke="#E2742F" stroke-width="1.45"/>
<circle cx="213.7" cy="118.8" r="2.3" fill="none" stroke="#E2742F" stroke-width="1.45"/>
<circle cx="214.0" cy="117.1" r="2.3" fill="none" stroke="#E2742F" stroke-width="1.45"/>
<circle cx="214.2" cy="121.5" r="2.3" fill="none" stroke="#E2742F" stroke-width="1.45"/>
<circle cx="214.5" cy="118.7" r="2.3" fill="none" stroke="#E2742F" stroke-width="1.45"/>
<circle cx="214.8" cy="119.9" r="2.3" fill="none" stroke="#E2742F" stroke-width="1.45"/>
<circle cx="215.1" cy="120.5" r="2.3" fill="none" stroke="#E2742F" stroke-width="1.45"/>
<circle cx="215.4" cy="117.2" r="2.3" fill="none" stroke="#E2742F" stroke-width="1.45"/>
<circle cx="215.7" cy="119.7" r="2.3" fill="none" stroke="#E2742F" stroke-width="1.45"/>
<circle cx="216.0" cy="116.0" r="2.3" fill="none" stroke="#E2742F" stroke-width="1.45"/>
<circle cx="216.3" cy="120.1" r="2.3" fill="none" stroke="#E2742F" stroke-width="1.45"/>
<circle cx="216.6" cy="118.0" r="2.3" fill="none" stroke="#E2742F" stroke-width="1.45"/>
<circle cx="216.9" cy="119.1" r="2.3" fill="none" stroke="#E2742F" stroke-width="1.45"/>
<circle cx="217.2" cy="120.1" r="2.3" fill="none" stroke="#E2742F" stroke-width="1.45"/>
<circle cx="217.5" cy="117.7" r="2.3" fill="none" stroke="#E2742F" stroke-width="1.45"/>
<circle cx="217.8" cy="119.0" r="2.3" fill="none" stroke="#E2742F" stroke-width="1.45"/>
<circle cx="218.1" cy="117.6" r="2.3" fill="none" stroke="#E2742F" stroke-width="1.45"/>
<circle cx="218.3" cy="118.8" r="2.3" fill="none" stroke="#E2742F" stroke-width="1.45"/>
<circle cx="218.6" cy="120.7" r="2.3" fill="none" stroke="#E2742F" stroke-width="1.45"/>
<circle cx="218.9" cy="118.9" r="2.3" fill="none" stroke="#E2742F" stroke-width="1.45"/>
<circle cx="219.2" cy="118.6" r="2.3" fill="none" stroke="#E2742F" stroke-width="1.45"/>
<circle cx="219.5" cy="117.0" r="2.3" fill="none" stroke="#E2742F" stroke-width="1.45"/>
<circle cx="219.8" cy="120.4" r="2.3" fill="none" stroke="#E2742F" stroke-width="1.45"/>
<circle cx="220.1" cy="118.8" r="2.3" fill="none" stroke="#E2742F" stroke-width="1.45"/>
<circle cx="220.4" cy="121.8" r="2.3" fill="none" stroke="#E2742F" stroke-width="1.45"/>
<circle cx="220.7" cy="117.6" r="2.3" fill="none" stroke="#E2742F" stroke-width="1.45"/>
<circle cx="221.0" cy="120.7" r="2.3" fill="none" stroke="#E2742F" stroke-width="1.45"/>
<circle cx="221.3" cy="122.0" r="2.3" fill="none" stroke="#E2742F" stroke-width="1.45"/>
<circle cx="221.6" cy="118.8" r="2.3" fill="none" stroke="#E2742F" stroke-width="1.45"/>
<circle cx="221.9" cy="116.7" r="2.3" fill="none" stroke="#E2742F" stroke-width="1.45"/>
<circle cx="222.2" cy="121.5" r="2.3" fill="none" stroke="#E2742F" stroke-width="1.45"/>
<circle cx="222.4" cy="120.7" r="2.3" fill="none" stroke="#E2742F" stroke-width="1.45"/>
<circle cx="222.7" cy="120.1" r="2.3" fill="none" stroke="#E2742F" stroke-width="1.45"/>
<circle cx="223.0" cy="120.8" r="2.3" fill="none" stroke="#E2742F" stroke-width="1.45"/>
<circle cx="223.3" cy="118.0" r="2.3" fill="none" stroke="#E2742F" stroke-width="1.45"/>
<circle cx="223.6" cy="120.2" r="2.3" fill="none" stroke="#E2742F" stroke-width="1.45"/>
<circle cx="223.9" cy="120.0" r="2.3" fill="none" stroke="#E2742F" stroke-width="1.45"/>
<circle cx="224.2" cy="117.7" r="2.3" fill="none" stroke="#E2742F" stroke-width="1.45"/>
<circle cx="224.5" cy="120.1" r="2.3" fill="none" stroke="#E2742F" stroke-width="1.45"/>
<circle cx="224.8" cy="118.0" r="2.3" fill="none" stroke="#E2742F" stroke-width="1.45"/>
<circle cx="225.1" cy="120.5" r="2.3" fill="none" stroke="#E2742F" stroke-width="1.45"/>
<circle cx="225.4" cy="120.9" r="2.3" fill="none" stroke="#E2742F" stroke-width="1.45"/>
<circle cx="225.7" cy="122.0" r="2.3" fill="none" stroke="#E2742F" stroke-width="1.45"/>
<circle cx="226.0" cy="115.4" r="2.3" fill="none" stroke="#E2742F" stroke-width="1.45"/>
<circle cx="226.3" cy="119.3" r="2.3" fill="none" stroke="#E2742F" stroke-width="1.45"/>
<circle cx="226.5" cy="118.3" r="2.3" fill="none" stroke="#E2742F" stroke-width="1.45"/>
<circle cx="226.8" cy="118.8" r="2.3" fill="none" stroke="#E2742F" stroke-width="1.45"/>
<circle cx="227.1" cy="118.4" r="2.3" fill="none" stroke="#E2742F" stroke-width="1.45"/>
<circle cx="227.4" cy="118.6" r="2.3" fill="none" stroke="#E2742F" stroke-width="1.45"/>
<circle cx="227.7" cy="115.3" r="2.3" fill="none" stroke="#E2742F" stroke-width="1.45"/>
<circle cx="228.0" cy="120.6" r="2.3" fill="none" stroke="#E2742F" stroke-width="1.45"/>
<circle cx="228.3" cy="121.5" r="2.3" fill="none" stroke="#E2742F" stroke-width="1.45"/>
<circle cx="228.6" cy="120.6" r="2.3" fill="none" stroke="#E2742F" stroke-width="1.45"/>
<circle cx="228.9" cy="121.1" r="2.3" fill="none" stroke="#E2742F" stroke-width="1.45"/>
<circle cx="229.2" cy="117.4" r="2.3" fill="none" stroke="#E2742F" stroke-width="1.45"/>
<circle cx="229.5" cy="117.3" r="2.3" fill="none" stroke="#E2742F" stroke-width="1.45"/>
<circle cx="229.8" cy="120.5" r="2.3" fill="none" stroke="#E2742F" stroke-width="1.45"/>
<circle cx="230.1" cy="121.2" r="2.3" fill="none" stroke="#E2742F" stroke-width="1.45"/>
<circle cx="230.4" cy="119.4" r="2.3" fill="none" stroke="#E2742F" stroke-width="1.45"/>
<circle cx="230.6" cy="116.2" r="2.3" fill="none" stroke="#E2742F" stroke-width="1.45"/>
<circle cx="230.9" cy="123.8" r="2.3" fill="none" stroke="#E2742F" stroke-width="1.45"/>
<circle cx="231.2" cy="117.8" r="2.3" fill="none" stroke="#E2742F" stroke-width="1.45"/>
<circle cx="231.5" cy="120.7" r="2.3" fill="none" stroke="#E2742F" stroke-width="1.45"/>
<circle cx="231.8" cy="116.9" r="2.3" fill="none" stroke="#E2742F" stroke-width="1.45"/>
<circle cx="232.1" cy="120.7" r="2.3" fill="none" stroke="#E2742F" stroke-width="1.45"/>
<circle cx="232.4" cy="119.2" r="2.3" fill="none" stroke="#E2742F" stroke-width="1.45"/>
<circle cx="232.7" cy="121.4" r="2.3" fill="none" stroke="#E2742F" stroke-width="1.45"/>
<circle cx="233.0" cy="120.5" r="2.3" fill="none" stroke="#E2742F" stroke-width="1.45"/>
<circle cx="233.3" cy="116.2" r="2.3" fill="none" stroke="#E2742F" stroke-width="1.45"/>
<circle cx="233.6" cy="117.3" r="2.3" fill="none" stroke="#E2742F" stroke-width="1.45"/>
<circle cx="233.9" cy="119.5" r="2.3" fill="none" stroke="#E2742F" stroke-width="1.45"/>
<circle cx="234.2" cy="120.3" r="2.3" fill="none" stroke="#E2742F" stroke-width="1.45"/>
<circle cx="234.4" cy="126.6" r="2.3" fill="none" stroke="#E2742F" stroke-width="1.45"/>
<circle cx="234.7" cy="123.9" r="2.3" fill="none" stroke="#E2742F" stroke-width="1.45"/>
<circle cx="235.0" cy="123.3" r="2.3" fill="none" stroke="#E2742F" stroke-width="1.45"/>
<circle cx="235.3" cy="123.4" r="2.3" fill="none" stroke="#E2742F" stroke-width="1.45"/>
<circle cx="235.6" cy="123.4" r="2.3" fill="none" stroke="#E2742F" stroke-width="1.45"/>
<circle cx="235.9" cy="125.3" r="2.3" fill="none" stroke="#E2742F" stroke-width="1.45"/>
<circle cx="236.2" cy="123.4" r="2.3" fill="none" stroke="#E2742F" stroke-width="1.45"/>
<circle cx="236.5" cy="123.3" r="2.3" fill="none" stroke="#E2742F" stroke-width="1.45"/>
<circle cx="236.8" cy="120.9" r="2.3" fill="none" stroke="#E2742F" stroke-width="1.45"/>
<circle cx="237.1" cy="119.9" r="2.3" fill="none" stroke="#E2742F" stroke-width="1.45"/>
<circle cx="237.4" cy="123.5" r="2.3" fill="none" stroke="#E2742F" stroke-width="1.45"/>
<circle cx="237.7" cy="124.6" r="2.3" fill="none" stroke="#E2742F" stroke-width="1.45"/>
<circle cx="238.0" cy="123.4" r="2.3" fill="none" stroke="#E2742F" stroke-width="1.45"/>
<circle cx="238.3" cy="124.3" r="2.3" fill="none" stroke="#E2742F" stroke-width="1.45"/>
<circle cx="238.5" cy="124.6" r="2.3" fill="none" stroke="#E2742F" stroke-width="1.45"/>
<circle cx="238.8" cy="123.3" r="2.3" fill="none" stroke="#E2742F" stroke-width="1.45"/>
<circle cx="239.1" cy="125.1" r="2.3" fill="none" stroke="#E2742F" stroke-width="1.45"/>
<circle cx="239.4" cy="122.1" r="2.3" fill="none" stroke="#E2742F" stroke-width="1.45"/>
<circle cx="239.7" cy="123.4" r="2.3" fill="none" stroke="#E2742F" stroke-width="1.45"/>
<circle cx="240.0" cy="122.8" r="2.3" fill="none" stroke="#E2742F" stroke-width="1.45"/>
<circle cx="240.3" cy="123.6" r="2.3" fill="none" stroke="#E2742F" stroke-width="1.45"/>
<circle cx="240.6" cy="124.5" r="2.3" fill="none" stroke="#E2742F" stroke-width="1.45"/>
<circle cx="240.9" cy="124.9" r="2.3" fill="none" stroke="#E2742F" stroke-width="1.45"/>
<circle cx="241.2" cy="123.7" r="2.3" fill="none" stroke="#E2742F" stroke-width="1.45"/>
<circle cx="241.5" cy="124.2" r="2.3" fill="none" stroke="#E2742F" stroke-width="1.45"/>
<circle cx="241.8" cy="122.8" r="2.3" fill="none" stroke="#E2742F" stroke-width="1.45"/>
<circle cx="242.1" cy="123.2" r="2.3" fill="none" stroke="#E2742F" stroke-width="1.45"/>
<circle cx="242.4" cy="125.7" r="2.3" fill="none" stroke="#E2742F" stroke-width="1.45"/>
<circle cx="242.6" cy="123.1" r="2.3" fill="none" stroke="#E2742F" stroke-width="1.45"/>
<circle cx="242.9" cy="125.7" r="2.3" fill="none" stroke="#E2742F" stroke-width="1.45"/>
<circle cx="243.2" cy="124.3" r="2.3" fill="none" stroke="#E2742F" stroke-width="1.45"/>
<circle cx="243.5" cy="123.8" r="2.3" fill="none" stroke="#E2742F" stroke-width="1.45"/>
<circle cx="243.8" cy="127.0" r="2.3" fill="none" stroke="#E2742F" stroke-width="1.45"/>
<circle cx="244.1" cy="123.1" r="2.3" fill="none" stroke="#E2742F" stroke-width="1.45"/>
<circle cx="244.4" cy="123.0" r="2.3" fill="none" stroke="#E2742F" stroke-width="1.45"/>
<circle cx="244.7" cy="123.5" r="2.3" fill="none" stroke="#E2742F" stroke-width="1.45"/>
<circle cx="245.0" cy="124.0" r="2.3" fill="none" stroke="#E2742F" stroke-width="1.45"/>
<circle cx="245.3" cy="123.9" r="2.3" fill="none" stroke="#E2742F" stroke-width="1.45"/>
<circle cx="245.6" cy="125.0" r="2.3" fill="none" stroke="#E2742F" stroke-width="1.45"/>
<circle cx="245.9" cy="123.7" r="2.3" fill="none" stroke="#E2742F" stroke-width="1.45"/>
<circle cx="246.2" cy="124.2" r="2.3" fill="none" stroke="#E2742F" stroke-width="1.45"/>
<circle cx="246.5" cy="123.1" r="2.3" fill="none" stroke="#E2742F" stroke-width="1.45"/>
<circle cx="246.7" cy="125.4" r="2.3" fill="none" stroke="#E2742F" stroke-width="1.45"/>
<circle cx="247.0" cy="122.8" r="2.3" fill="none" stroke="#E2742F" stroke-width="1.45"/>
<circle cx="247.3" cy="123.0" r="2.3" fill="none" stroke="#E2742F" stroke-width="1.45"/>
<circle cx="247.6" cy="123.5" r="2.3" fill="none" stroke="#E2742F" stroke-width="1.45"/>
<circle cx="247.9" cy="124.0" r="2.3" fill="none" stroke="#E2742F" stroke-width="1.45"/>
<circle cx="248.2" cy="122.2" r="2.3" fill="none" stroke="#E2742F" stroke-width="1.45"/>
<circle cx="248.5" cy="126.2" r="2.3" fill="none" stroke="#E2742F" stroke-width="1.45"/>
<circle cx="248.8" cy="122.4" r="2.3" fill="none" stroke="#E2742F" stroke-width="1.45"/>
<circle cx="249.1" cy="122.8" r="2.3" fill="none" stroke="#E2742F" stroke-width="1.45"/>
<circle cx="249.4" cy="122.7" r="2.3" fill="none" stroke="#E2742F" stroke-width="1.45"/>
<circle cx="249.7" cy="122.5" r="2.3" fill="none" stroke="#E2742F" stroke-width="1.45"/>
<circle cx="250.0" cy="124.4" r="2.3" fill="none" stroke="#E2742F" stroke-width="1.45"/>
<circle cx="250.3" cy="123.7" r="2.3" fill="none" stroke="#E2742F" stroke-width="1.45"/>
<circle cx="250.6" cy="122.1" r="2.3" fill="none" stroke="#E2742F" stroke-width="1.45"/>
<circle cx="250.8" cy="122.5" r="2.3" fill="none" stroke="#E2742F" stroke-width="1.45"/>
<circle cx="251.1" cy="122.9" r="2.3" fill="none" stroke="#E2742F" stroke-width="1.45"/>
<circle cx="251.4" cy="126.0" r="2.3" fill="none" stroke="#E2742F" stroke-width="1.45"/>
<circle cx="251.7" cy="122.3" r="2.3" fill="none" stroke="#E2742F" stroke-width="1.45"/>
<circle cx="252.0" cy="121.1" r="2.3" fill="none" stroke="#E2742F" stroke-width="1.45"/>
<circle cx="252.3" cy="121.4" r="2.3" fill="none" stroke="#E2742F" stroke-width="1.45"/>
<circle cx="252.6" cy="122.8" r="2.3" fill="none" stroke="#E2742F" stroke-width="1.45"/>
<circle cx="252.9" cy="126.0" r="2.3" fill="none" stroke="#E2742F" stroke-width="1.45"/>
<circle cx="253.2" cy="121.5" r="2.3" fill="none" stroke="#E2742F" stroke-width="1.45"/>
<circle cx="253.5" cy="123.5" r="2.3" fill="none" stroke="#E2742F" stroke-width="1.45"/>
<circle cx="253.8" cy="127.8" r="2.3" fill="none" stroke="#E2742F" stroke-width="1.45"/>
<circle cx="254.1" cy="122.6" r="2.3" fill="none" stroke="#E2742F" stroke-width="1.45"/>
<circle cx="254.4" cy="125.9" r="2.3" fill="none" stroke="#E2742F" stroke-width="1.45"/>
<circle cx="254.7" cy="125.6" r="2.3" fill="none" stroke="#E2742F" stroke-width="1.45"/>
<circle cx="254.9" cy="124.4" r="2.3" fill="none" stroke="#E2742F" stroke-width="1.45"/>
<circle cx="255.2" cy="120.9" r="2.3" fill="none" stroke="#E2742F" stroke-width="1.45"/>
<circle cx="255.5" cy="123.9" r="2.3" fill="none" stroke="#E2742F" stroke-width="1.45"/>
<circle cx="255.8" cy="122.7" r="2.3" fill="none" stroke="#E2742F" stroke-width="1.45"/>
<circle cx="256.1" cy="120.1" r="2.3" fill="none" stroke="#E2742F" stroke-width="1.45"/>
<circle cx="256.4" cy="120.4" r="2.3" fill="none" stroke="#E2742F" stroke-width="1.45"/>
<circle cx="256.7" cy="123.4" r="2.3" fill="none" stroke="#E2742F" stroke-width="1.45"/>
<circle cx="257.0" cy="123.7" r="2.3" fill="none" stroke="#E2742F" stroke-width="1.45"/>
<circle cx="257.3" cy="125.5" r="2.3" fill="none" stroke="#E2742F" stroke-width="1.45"/>
<circle cx="257.6" cy="124.5" r="2.3" fill="none" stroke="#E2742F" stroke-width="1.45"/>
<circle cx="257.9" cy="122.5" r="2.3" fill="none" stroke="#E2742F" stroke-width="1.45"/>
<circle cx="258.2" cy="122.5" r="2.3" fill="none" stroke="#E2742F" stroke-width="1.45"/>
<circle cx="258.5" cy="123.0" r="2.3" fill="none" stroke="#E2742F" stroke-width="1.45"/>
<circle cx="258.8" cy="121.4" r="2.3" fill="none" stroke="#E2742F" stroke-width="1.45"/>
<circle cx="259.0" cy="124.6" r="2.3" fill="none" stroke="#E2742F" stroke-width="1.45"/>
<circle cx="259.3" cy="123.3" r="2.3" fill="none" stroke="#E2742F" stroke-width="1.45"/>
<circle cx="259.6" cy="121.9" r="2.3" fill="none" stroke="#E2742F" stroke-width="1.45"/>
<circle cx="259.9" cy="122.2" r="2.3" fill="none" stroke="#E2742F" stroke-width="1.45"/>
<circle cx="260.2" cy="121.3" r="2.3" fill="none" stroke="#E2742F" stroke-width="1.45"/>
<circle cx="260.5" cy="122.5" r="2.3" fill="none" stroke="#E2742F" stroke-width="1.45"/>
<circle cx="260.8" cy="123.8" r="2.3" fill="none" stroke="#E2742F" stroke-width="1.45"/>
<circle cx="261.1" cy="122.6" r="2.3" fill="none" stroke="#E2742F" stroke-width="1.45"/>
<circle cx="261.4" cy="125.0" r="2.3" fill="none" stroke="#E2742F" stroke-width="1.45"/>
<circle cx="261.7" cy="126.2" r="2.3" fill="none" stroke="#E2742F" stroke-width="1.45"/>
<circle cx="262.0" cy="122.2" r="2.3" fill="none" stroke="#E2742F" stroke-width="1.45"/>
<circle cx="262.3" cy="123.3" r="2.3" fill="none" stroke="#E2742F" stroke-width="1.45"/>
<circle cx="262.6" cy="122.7" r="2.3" fill="none" stroke="#E2742F" stroke-width="1.45"/>
<circle cx="262.9" cy="126.3" r="2.3" fill="none" stroke="#E2742F" stroke-width="1.45"/>
<circle cx="263.1" cy="123.9" r="2.3" fill="none" stroke="#E2742F" stroke-width="1.45"/>
<circle cx="263.4" cy="124.3" r="2.3" fill="none" stroke="#E2742F" stroke-width="1.45"/>
<circle cx="263.7" cy="124.8" r="2.3" fill="none" stroke="#E2742F" stroke-width="1.45"/>
<circle cx="264.0" cy="127.3" r="2.3" fill="none" stroke="#E2742F" stroke-width="1.45"/>
<circle cx="264.3" cy="123.8" r="2.3" fill="none" stroke="#E2742F" stroke-width="1.45"/>
<circle cx="264.6" cy="121.6" r="2.3" fill="none" stroke="#E2742F" stroke-width="1.45"/>
<circle cx="264.9" cy="122.5" r="2.3" fill="none" stroke="#E2742F" stroke-width="1.45"/>
<circle cx="265.2" cy="124.3" r="2.3" fill="none" stroke="#E2742F" stroke-width="1.45"/>
<circle cx="265.5" cy="123.3" r="2.3" fill="none" stroke="#E2742F" stroke-width="1.45"/>
<circle cx="265.8" cy="121.9" r="2.3" fill="none" stroke="#E2742F" stroke-width="1.45"/>
<circle cx="266.1" cy="128.2" r="2.3" fill="none" stroke="#E2742F" stroke-width="1.45"/>
<circle cx="266.4" cy="123.5" r="2.3" fill="none" stroke="#E2742F" stroke-width="1.45"/>
<circle cx="266.7" cy="122.3" r="2.3" fill="none" stroke="#E2742F" stroke-width="1.45"/>
<circle cx="267.0" cy="122.0" r="2.3" fill="none" stroke="#E2742F" stroke-width="1.45"/>
<circle cx="267.2" cy="120.2" r="2.3" fill="none" stroke="#E2742F" stroke-width="1.45"/>
<circle cx="267.5" cy="121.2" r="2.3" fill="none" stroke="#E2742F" stroke-width="1.45"/>
<circle cx="267.8" cy="122.7" r="2.3" fill="none" stroke="#E2742F" stroke-width="1.45"/>
<circle cx="268.1" cy="122.7" r="2.3" fill="none" stroke="#E2742F" stroke-width="1.45"/>
<circle cx="268.4" cy="121.8" r="2.3" fill="none" stroke="#E2742F" stroke-width="1.45"/>
<circle cx="268.7" cy="124.2" r="2.3" fill="none" stroke="#E2742F" stroke-width="1.45"/>
<circle cx="269.0" cy="123.3" r="2.3" fill="none" stroke="#E2742F" stroke-width="1.45"/>
<circle cx="269.3" cy="121.6" r="2.3" fill="none" stroke="#E2742F" stroke-width="1.45"/>
<circle cx="269.6" cy="119.7" r="2.3" fill="none" stroke="#E2742F" stroke-width="1.45"/>
<circle cx="269.9" cy="123.5" r="2.3" fill="none" stroke="#E2742F" stroke-width="1.45"/>
<circle cx="270.2" cy="123.3" r="2.3" fill="none" stroke="#E2742F" stroke-width="1.45"/>
<circle cx="270.5" cy="122.9" r="2.3" fill="none" stroke="#E2742F" stroke-width="1.45"/>
<circle cx="270.8" cy="120.8" r="2.3" fill="none" stroke="#E2742F" stroke-width="1.45"/>
<circle cx="271.0" cy="123.3" r="2.3" fill="none" stroke="#E2742F" stroke-width="1.45"/>
<circle cx="271.3" cy="120.6" r="2.3" fill="none" stroke="#E2742F" stroke-width="1.45"/>
<circle cx="271.6" cy="125.0" r="2.3" fill="none" stroke="#E2742F" stroke-width="1.45"/>
<circle cx="271.9" cy="123.6" r="2.3" fill="none" stroke="#E2742F" stroke-width="1.45"/>
<circle cx="272.2" cy="123.6" r="2.3" fill="none" stroke="#E2742F" stroke-width="1.45"/>
<circle cx="272.5" cy="121.8" r="2.3" fill="none" stroke="#E2742F" stroke-width="1.45"/>
<circle cx="272.8" cy="121.4" r="2.3" fill="none" stroke="#E2742F" stroke-width="1.45"/>
<circle cx="273.1" cy="126.0" r="2.3" fill="none" stroke="#E2742F" stroke-width="1.45"/>
<circle cx="273.4" cy="125.9" r="2.3" fill="none" stroke="#E2742F" stroke-width="1.45"/>
<circle cx="273.7" cy="123.7" r="2.3" fill="none" stroke="#E2742F" stroke-width="1.45"/>
<circle cx="274.0" cy="125.5" r="2.3" fill="none" stroke="#E2742F" stroke-width="1.45"/>
<circle cx="274.3" cy="127.0" r="2.3" fill="none" stroke="#E2742F" stroke-width="1.45"/>
<circle cx="274.6" cy="122.4" r="2.3" fill="none" stroke="#E2742F" stroke-width="1.45"/>
<circle cx="274.9" cy="123.4" r="2.3" fill="none" stroke="#E2742F" stroke-width="1.45"/>
<circle cx="275.1" cy="123.4" r="2.3" fill="none" stroke="#E2742F" stroke-width="1.45"/>
<circle cx="275.4" cy="125.2" r="2.3" fill="none" stroke="#E2742F" stroke-width="1.45"/>
<circle cx="275.7" cy="122.4" r="2.3" fill="none" stroke="#E2742F" stroke-width="1.45"/>
<circle cx="276.0" cy="124.7" r="2.3" fill="none" stroke="#E2742F" stroke-width="1.45"/>
<circle cx="276.3" cy="122.3" r="2.3" fill="none" stroke="#E2742F" stroke-width="1.45"/>
<circle cx="276.6" cy="125.9" r="2.3" fill="none" stroke="#E2742F" stroke-width="1.45"/>
<circle cx="276.9" cy="125.8" r="2.3" fill="none" stroke="#E2742F" stroke-width="1.45"/>
<circle cx="277.2" cy="123.9" r="2.3" fill="none" stroke="#E2742F" stroke-width="1.45"/>
<circle cx="277.5" cy="125.6" r="2.3" fill="none" stroke="#E2742F" stroke-width="1.45"/>
<circle cx="277.8" cy="123.1" r="2.3" fill="none" stroke="#E2742F" stroke-width="1.45"/>
<circle cx="278.1" cy="123.8" r="2.3" fill="none" stroke="#E2742F" stroke-width="1.45"/>
<circle cx="278.4" cy="126.0" r="2.3" fill="none" stroke="#E2742F" stroke-width="1.45"/>
<circle cx="278.7" cy="124.2" r="2.3" fill="none" stroke="#E2742F" stroke-width="1.45"/>
<circle cx="279.0" cy="124.9" r="2.3" fill="none" stroke="#E2742F" stroke-width="1.45"/>
<circle cx="279.2" cy="122.6" r="2.3" fill="none" stroke="#E2742F" stroke-width="1.45"/>
<circle cx="279.5" cy="125.4" r="2.3" fill="none" stroke="#E2742F" stroke-width="1.45"/>
<circle cx="279.8" cy="125.1" r="2.3" fill="none" stroke="#E2742F" stroke-width="1.45"/>
<circle cx="280.1" cy="122.1" r="2.3" fill="none" stroke="#E2742F" stroke-width="1.45"/>
<circle cx="280.4" cy="120.3" r="2.3" fill="none" stroke="#E2742F" stroke-width="1.45"/>
<circle cx="280.7" cy="120.7" r="2.3" fill="none" stroke="#E2742F" stroke-width="1.45"/>
<circle cx="281.0" cy="124.2" r="2.3" fill="none" stroke="#E2742F" stroke-width="1.45"/>
<circle cx="281.3" cy="123.9" r="2.3" fill="none" stroke="#E2742F" stroke-width="1.45"/>
<circle cx="281.6" cy="121.5" r="2.3" fill="none" stroke="#E2742F" stroke-width="1.45"/>
<circle cx="281.9" cy="124.5" r="2.3" fill="none" stroke="#E2742F" stroke-width="1.45"/>
<circle cx="282.2" cy="126.1" r="2.3" fill="none" stroke="#E2742F" stroke-width="1.45"/>
<circle cx="282.5" cy="124.1" r="2.3" fill="none" stroke="#E2742F" stroke-width="1.45"/>
<circle cx="282.8" cy="123.5" r="2.3" fill="none" stroke="#E2742F" stroke-width="1.45"/>
<circle cx="283.1" cy="125.8" r="2.3" fill="none" stroke="#E2742F" stroke-width="1.45"/>
<circle cx="283.3" cy="127.3" r="2.3" fill="none" stroke="#E2742F" stroke-width="1.45"/>
<circle cx="283.6" cy="126.9" r="2.3" fill="none" stroke="#E2742F" stroke-width="1.45"/>
<circle cx="283.9" cy="123.1" r="2.3" fill="none" stroke="#E2742F" stroke-width="1.45"/>
<circle cx="284.2" cy="125.7" r="2.3" fill="none" stroke="#E2742F" stroke-width="1.45"/>
<circle cx="284.5" cy="124.5" r="2.3" fill="none" stroke="#E2742F" stroke-width="1.45"/>
<circle cx="284.8" cy="123.9" r="2.3" fill="none" stroke="#E2742F" stroke-width="1.45"/>
<circle cx="285.1" cy="123.2" r="2.3" fill="none" stroke="#E2742F" stroke-width="1.45"/>
<circle cx="285.4" cy="124.9" r="2.3" fill="none" stroke="#E2742F" stroke-width="1.45"/>
<circle cx="285.7" cy="123.4" r="2.3" fill="none" stroke="#E2742F" stroke-width="1.45"/>
<circle cx="286.0" cy="125.9" r="2.3" fill="none" stroke="#E2742F" stroke-width="1.45"/>
<circle cx="286.3" cy="124.9" r="2.3" fill="none" stroke="#E2742F" stroke-width="1.45"/>
<circle cx="286.6" cy="126.1" r="2.3" fill="none" stroke="#E2742F" stroke-width="1.45"/>
<circle cx="286.9" cy="122.3" r="2.3" fill="none" stroke="#E2742F" stroke-width="1.45"/>
<circle cx="287.2" cy="124.3" r="2.3" fill="none" stroke="#E2742F" stroke-width="1.45"/>
<circle cx="287.4" cy="125.6" r="2.3" fill="none" stroke="#E2742F" stroke-width="1.45"/>
<circle cx="287.7" cy="124.9" r="2.3" fill="none" stroke="#E2742F" stroke-width="1.45"/>
<circle cx="288.0" cy="124.7" r="2.3" fill="none" stroke="#E2742F" stroke-width="1.45"/>
<circle cx="288.3" cy="123.0" r="2.3" fill="none" stroke="#E2742F" stroke-width="1.45"/>
<circle cx="288.6" cy="127.2" r="2.3" fill="none" stroke="#E2742F" stroke-width="1.45"/>
<circle cx="288.9" cy="126.2" r="2.3" fill="none" stroke="#E2742F" stroke-width="1.45"/>
<circle cx="289.2" cy="125.0" r="2.3" fill="none" stroke="#E2742F" stroke-width="1.45"/>
<circle cx="289.5" cy="119.7" r="2.3" fill="none" stroke="#E2742F" stroke-width="1.45"/>
<circle cx="289.8" cy="122.6" r="2.3" fill="none" stroke="#E2742F" stroke-width="1.45"/>
<circle cx="290.1" cy="124.5" r="2.3" fill="none" stroke="#E2742F" stroke-width="1.45"/>
<circle cx="290.4" cy="123.0" r="2.3" fill="none" stroke="#E2742F" stroke-width="1.45"/>
<circle cx="290.7" cy="120.6" r="2.3" fill="none" stroke="#E2742F" stroke-width="1.45"/>
<circle cx="291.0" cy="124.7" r="2.3" fill="none" stroke="#E2742F" stroke-width="1.45"/>
<circle cx="291.3" cy="125.0" r="2.3" fill="none" stroke="#E2742F" stroke-width="1.45"/>
<circle cx="291.5" cy="122.1" r="2.3" fill="none" stroke="#E2742F" stroke-width="1.45"/>
<circle cx="291.8" cy="123.4" r="2.3" fill="none" stroke="#E2742F" stroke-width="1.45"/>
<circle cx="292.1" cy="123.1" r="2.3" fill="none" stroke="#E2742F" stroke-width="1.45"/>
<circle cx="292.4" cy="125.2" r="2.3" fill="none" stroke="#E2742F" stroke-width="1.45"/>
<circle cx="292.7" cy="120.8" r="2.3" fill="none" stroke="#E2742F" stroke-width="1.45"/>
<circle cx="293.0" cy="121.2" r="2.3" fill="none" stroke="#E2742F" stroke-width="1.45"/>
<circle cx="293.3" cy="123.3" r="2.3" fill="none" stroke="#E2742F" stroke-width="1.45"/>
<circle cx="293.6" cy="123.1" r="2.3" fill="none" stroke="#E2742F" stroke-width="1.45"/>
<circle cx="293.9" cy="127.9" r="2.3" fill="none" stroke="#E2742F" stroke-width="1.45"/>
<circle cx="294.2" cy="123.1" r="2.3" fill="none" stroke="#E2742F" stroke-width="1.45"/>
<circle cx="294.5" cy="124.6" r="2.3" fill="none" stroke="#E2742F" stroke-width="1.45"/>
<circle cx="294.8" cy="123.5" r="2.3" fill="none" stroke="#E2742F" stroke-width="1.45"/>
<circle cx="295.1" cy="123.1" r="2.3" fill="none" stroke="#E2742F" stroke-width="1.45"/>
<circle cx="295.4" cy="124.9" r="2.3" fill="none" stroke="#E2742F" stroke-width="1.45"/>
<circle cx="295.6" cy="127.3" r="2.3" fill="none" stroke="#E2742F" stroke-width="1.45"/>
<circle cx="295.9" cy="123.6" r="2.3" fill="none" stroke="#E2742F" stroke-width="1.45"/>
<circle cx="296.2" cy="125.6" r="2.3" fill="none" stroke="#E2742F" stroke-width="1.45"/>
<circle cx="296.5" cy="124.9" r="2.3" fill="none" stroke="#E2742F" stroke-width="1.45"/>
<circle cx="296.8" cy="125.4" r="2.3" fill="none" stroke="#E2742F" stroke-width="1.45"/>
<circle cx="297.1" cy="124.9" r="2.3" fill="none" stroke="#E2742F" stroke-width="1.45"/>
<circle cx="297.4" cy="128.5" r="2.3" fill="none" stroke="#E2742F" stroke-width="1.45"/>
<circle cx="297.7" cy="122.1" r="2.3" fill="none" stroke="#E2742F" stroke-width="1.45"/>
<circle cx="298.0" cy="123.8" r="2.3" fill="none" stroke="#E2742F" stroke-width="1.45"/>
<circle cx="298.3" cy="122.3" r="2.3" fill="none" stroke="#E2742F" stroke-width="1.45"/>
<circle cx="298.6" cy="120.7" r="2.3" fill="none" stroke="#E2742F" stroke-width="1.45"/>
<circle cx="298.9" cy="124.3" r="2.3" fill="none" stroke="#E2742F" stroke-width="1.45"/>
<circle cx="299.2" cy="127.5" r="2.3" fill="none" stroke="#E2742F" stroke-width="1.45"/>
<circle cx="299.5" cy="125.9" r="2.3" fill="none" stroke="#E2742F" stroke-width="1.45"/>
<circle cx="299.7" cy="126.5" r="2.3" fill="none" stroke="#E2742F" stroke-width="1.45"/>
<circle cx="300.0" cy="125.2" r="2.3" fill="none" stroke="#E2742F" stroke-width="1.45"/>
<circle cx="300.3" cy="124.2" r="2.3" fill="none" stroke="#E2742F" stroke-width="1.45"/>
<circle cx="300.6" cy="127.9" r="2.3" fill="none" stroke="#E2742F" stroke-width="1.45"/>
<circle cx="300.9" cy="123.7" r="2.3" fill="none" stroke="#E2742F" stroke-width="1.45"/>
<circle cx="301.2" cy="127.0" r="2.3" fill="none" stroke="#E2742F" stroke-width="1.45"/>
<circle cx="301.5" cy="123.8" r="2.3" fill="none" stroke="#E2742F" stroke-width="1.45"/>
<circle cx="301.8" cy="124.5" r="2.3" fill="none" stroke="#E2742F" stroke-width="1.45"/>
<circle cx="302.1" cy="124.9" r="2.3" fill="none" stroke="#E2742F" stroke-width="1.45"/>
<circle cx="302.4" cy="124.4" r="2.3" fill="none" stroke="#E2742F" stroke-width="1.45"/>
<circle cx="302.7" cy="125.3" r="2.3" fill="none" stroke="#E2742F" stroke-width="1.45"/>
<circle cx="303.0" cy="125.4" r="2.3" fill="none" stroke="#E2742F" stroke-width="1.45"/>
<circle cx="303.3" cy="127.3" r="2.3" fill="none" stroke="#E2742F" stroke-width="1.45"/>
<circle cx="303.6" cy="124.3" r="2.3" fill="none" stroke="#E2742F" stroke-width="1.45"/>
<circle cx="303.8" cy="121.0" r="2.3" fill="none" stroke="#E2742F" stroke-width="1.45"/>
<circle cx="304.1" cy="120.7" r="2.3" fill="none" stroke="#E2742F" stroke-width="1.45"/>
<circle cx="304.4" cy="121.9" r="2.3" fill="none" stroke="#E2742F" stroke-width="1.45"/>
<circle cx="304.7" cy="123.0" r="2.3" fill="none" stroke="#E2742F" stroke-width="1.45"/>
<circle cx="305.0" cy="125.5" r="2.3" fill="none" stroke="#E2742F" stroke-width="1.45"/>
<circle cx="305.3" cy="121.7" r="2.3" fill="none" stroke="#E2742F" stroke-width="1.45"/>
<circle cx="305.6" cy="124.4" r="2.3" fill="none" stroke="#E2742F" stroke-width="1.45"/>
<circle cx="305.9" cy="124.4" r="2.3" fill="none" stroke="#E2742F" stroke-width="1.45"/>
<circle cx="306.2" cy="124.8" r="2.3" fill="none" stroke="#E2742F" stroke-width="1.45"/>
<circle cx="306.5" cy="124.1" r="2.3" fill="none" stroke="#E2742F" stroke-width="1.45"/>
<circle cx="306.8" cy="125.1" r="2.3" fill="none" stroke="#E2742F" stroke-width="1.45"/>
<circle cx="307.1" cy="124.4" r="2.3" fill="none" stroke="#E2742F" stroke-width="1.45"/>
<circle cx="307.4" cy="126.2" r="2.3" fill="none" stroke="#E2742F" stroke-width="1.45"/>
<circle cx="307.6" cy="125.0" r="2.3" fill="none" stroke="#E2742F" stroke-width="1.45"/>
<circle cx="307.9" cy="120.2" r="2.3" fill="none" stroke="#E2742F" stroke-width="1.45"/>
<circle cx="308.2" cy="124.4" r="2.3" fill="none" stroke="#E2742F" stroke-width="1.45"/>
<circle cx="308.5" cy="124.7" r="2.3" fill="none" stroke="#E2742F" stroke-width="1.45"/>
<circle cx="308.8" cy="123.3" r="2.3" fill="none" stroke="#E2742F" stroke-width="1.45"/>
<circle cx="309.1" cy="123.0" r="2.3" fill="none" stroke="#E2742F" stroke-width="1.45"/>
<circle cx="309.4" cy="126.3" r="2.3" fill="none" stroke="#E2742F" stroke-width="1.45"/>
<circle cx="309.7" cy="124.7" r="2.3" fill="none" stroke="#E2742F" stroke-width="1.45"/>
<circle cx="310.0" cy="122.6" r="2.3" fill="none" stroke="#E2742F" stroke-width="1.45"/>
<circle cx="310.3" cy="123.8" r="2.3" fill="none" stroke="#E2742F" stroke-width="1.45"/>
<circle cx="310.6" cy="124.1" r="2.3" fill="none" stroke="#E2742F" stroke-width="1.45"/>
<circle cx="310.9" cy="121.5" r="2.3" fill="none" stroke="#E2742F" stroke-width="1.45"/>
<circle cx="311.2" cy="125.5" r="2.3" fill="none" stroke="#E2742F" stroke-width="1.45"/>
<circle cx="311.5" cy="124.1" r="2.3" fill="none" stroke="#E2742F" stroke-width="1.45"/>
<circle cx="311.7" cy="125.2" r="2.3" fill="none" stroke="#E2742F" stroke-width="1.45"/>
<circle cx="312.0" cy="121.6" r="2.3" fill="none" stroke="#E2742F" stroke-width="1.45"/>
<circle cx="312.3" cy="127.8" r="2.3" fill="none" stroke="#E2742F" stroke-width="1.45"/>
<circle cx="312.6" cy="125.5" r="2.3" fill="none" stroke="#E2742F" stroke-width="1.45"/>
<circle cx="312.9" cy="125.2" r="2.3" fill="none" stroke="#E2742F" stroke-width="1.45"/>
<circle cx="313.2" cy="123.1" r="2.3" fill="none" stroke="#E2742F" stroke-width="1.45"/>
<circle cx="313.5" cy="123.2" r="2.3" fill="none" stroke="#E2742F" stroke-width="1.45"/>
<circle cx="313.8" cy="121.8" r="2.3" fill="none" stroke="#E2742F" stroke-width="1.45"/>
<circle cx="314.1" cy="127.1" r="2.3" fill="none" stroke="#E2742F" stroke-width="1.45"/>
<circle cx="314.4" cy="122.9" r="2.3" fill="none" stroke="#E2742F" stroke-width="1.45"/>
<circle cx="314.7" cy="124.8" r="2.3" fill="none" stroke="#E2742F" stroke-width="1.45"/>
<circle cx="315.0" cy="125.5" r="2.3" fill="none" stroke="#E2742F" stroke-width="1.45"/>
<circle cx="315.3" cy="123.3" r="2.3" fill="none" stroke="#E2742F" stroke-width="1.45"/>
<circle cx="315.6" cy="126.0" r="2.3" fill="none" stroke="#E2742F" stroke-width="1.45"/>
<circle cx="315.8" cy="128.0" r="2.3" fill="none" stroke="#E2742F" stroke-width="1.45"/>
<circle cx="316.1" cy="125.0" r="2.3" fill="none" stroke="#E2742F" stroke-width="1.45"/>
<circle cx="316.4" cy="127.0" r="2.3" fill="none" stroke="#E2742F" stroke-width="1.45"/>
<circle cx="316.7" cy="125.5" r="2.3" fill="none" stroke="#E2742F" stroke-width="1.45"/>
<circle cx="317.0" cy="123.6" r="2.3" fill="none" stroke="#E2742F" stroke-width="1.45"/>
<circle cx="317.3" cy="123.7" r="2.3" fill="none" stroke="#E2742F" stroke-width="1.45"/>
<circle cx="317.6" cy="121.4" r="2.3" fill="none" stroke="#E2742F" stroke-width="1.45"/>
<circle cx="317.9" cy="124.7" r="2.3" fill="none" stroke="#E2742F" stroke-width="1.45"/>
<circle cx="318.2" cy="127.1" r="2.3" fill="none" stroke="#E2742F" stroke-width="1.45"/>
<circle cx="318.5" cy="125.7" r="2.3" fill="none" stroke="#E2742F" stroke-width="1.45"/>
<circle cx="318.8" cy="126.0" r="2.3" fill="none" stroke="#E2742F" stroke-width="1.45"/>
<circle cx="319.1" cy="126.5" r="2.3" fill="none" stroke="#E2742F" stroke-width="1.45"/>
<circle cx="319.4" cy="123.5" r="2.3" fill="none" stroke="#E2742F" stroke-width="1.45"/>
<circle cx="319.7" cy="125.5" r="2.3" fill="none" stroke="#E2742F" stroke-width="1.45"/>
<circle cx="319.9" cy="127.9" r="2.3" fill="none" stroke="#E2742F" stroke-width="1.45"/>
<circle cx="320.2" cy="123.0" r="2.3" fill="none" stroke="#E2742F" stroke-width="1.45"/>
<circle cx="320.5" cy="124.5" r="2.3" fill="none" stroke="#E2742F" stroke-width="1.45"/>
<circle cx="320.8" cy="123.7" r="2.3" fill="none" stroke="#E2742F" stroke-width="1.45"/>
<circle cx="321.1" cy="124.1" r="2.3" fill="none" stroke="#E2742F" stroke-width="1.45"/>
<circle cx="321.4" cy="123.2" r="2.3" fill="none" stroke="#E2742F" stroke-width="1.45"/>
<circle cx="321.7" cy="124.2" r="2.3" fill="none" stroke="#E2742F" stroke-width="1.45"/>
<circle cx="322.0" cy="122.1" r="2.3" fill="none" stroke="#E2742F" stroke-width="1.45"/>
<circle cx="322.3" cy="123.5" r="2.3" fill="none" stroke="#E2742F" stroke-width="1.45"/>
<circle cx="322.6" cy="123.6" r="2.3" fill="none" stroke="#E2742F" stroke-width="1.45"/>
<circle cx="322.9" cy="123.6" r="2.3" fill="none" stroke="#E2742F" stroke-width="1.45"/>
<circle cx="323.2" cy="126.9" r="2.3" fill="none" stroke="#E2742F" stroke-width="1.45"/>
<circle cx="323.5" cy="124.6" r="2.3" fill="none" stroke="#E2742F" stroke-width="1.45"/>
<circle cx="323.8" cy="124.8" r="2.3" fill="none" stroke="#E2742F" stroke-width="1.45"/>
<circle cx="324.0" cy="123.9" r="2.3" fill="none" stroke="#E2742F" stroke-width="1.45"/>
<circle cx="324.3" cy="126.7" r="2.3" fill="none" stroke="#E2742F" stroke-width="1.45"/>
<circle cx="324.6" cy="121.4" r="2.3" fill="none" stroke="#E2742F" stroke-width="1.45"/>
<circle cx="324.9" cy="124.1" r="2.3" fill="none" stroke="#E2742F" stroke-width="1.45"/>
<circle cx="325.2" cy="126.5" r="2.3" fill="none" stroke="#E2742F" stroke-width="1.45"/>
<circle cx="325.5" cy="127.4" r="2.3" fill="none" stroke="#E2742F" stroke-width="1.45"/>
<circle cx="325.8" cy="124.8" r="2.3" fill="none" stroke="#E2742F" stroke-width="1.45"/>
<circle cx="326.1" cy="124.5" r="2.3" fill="none" stroke="#E2742F" stroke-width="1.45"/>
<circle cx="326.4" cy="125.6" r="2.3" fill="none" stroke="#E2742F" stroke-width="1.45"/>
<circle cx="326.7" cy="124.1" r="2.3" fill="none" stroke="#E2742F" stroke-width="1.45"/>
<circle cx="327.0" cy="125.5" r="2.3" fill="none" stroke="#E2742F" stroke-width="1.45"/>
<circle cx="327.3" cy="123.3" r="2.3" fill="none" stroke="#E2742F" stroke-width="1.45"/>
<circle cx="327.6" cy="125.6" r="2.3" fill="none" stroke="#E2742F" stroke-width="1.45"/>
<circle cx="327.9" cy="124.4" r="2.3" fill="none" stroke="#E2742F" stroke-width="1.45"/>
<circle cx="328.1" cy="122.5" r="2.3" fill="none" stroke="#E2742F" stroke-width="1.45"/>
<circle cx="328.4" cy="119.7" r="2.3" fill="none" stroke="#E2742F" stroke-width="1.45"/>
<circle cx="328.7" cy="126.1" r="2.3" fill="none" stroke="#E2742F" stroke-width="1.45"/>
<circle cx="329.0" cy="125.1" r="2.3" fill="none" stroke="#E2742F" stroke-width="1.45"/>
<circle cx="329.3" cy="125.8" r="2.3" fill="none" stroke="#E2742F" stroke-width="1.45"/>
<circle cx="329.6" cy="122.9" r="2.3" fill="none" stroke="#E2742F" stroke-width="1.45"/>
<circle cx="329.9" cy="126.4" r="2.3" fill="none" stroke="#E2742F" stroke-width="1.45"/>
<circle cx="330.2" cy="125.2" r="2.3" fill="none" stroke="#E2742F" stroke-width="1.45"/>
<circle cx="330.5" cy="124.3" r="2.3" fill="none" stroke="#E2742F" stroke-width="1.45"/>
<circle cx="330.8" cy="126.1" r="2.3" fill="none" stroke="#E2742F" stroke-width="1.45"/>
<circle cx="331.1" cy="126.0" r="2.3" fill="none" stroke="#E2742F" stroke-width="1.45"/>
<circle cx="331.4" cy="125.2" r="2.3" fill="none" stroke="#E2742F" stroke-width="1.45"/>
<circle cx="331.7" cy="128.1" r="2.3" fill="none" stroke="#E2742F" stroke-width="1.45"/>
<circle cx="332.0" cy="126.9" r="2.3" fill="none" stroke="#E2742F" stroke-width="1.45"/>
<circle cx="332.2" cy="125.0" r="2.3" fill="none" stroke="#E2742F" stroke-width="1.45"/>
<circle cx="332.5" cy="124.0" r="2.3" fill="none" stroke="#E2742F" stroke-width="1.45"/>
<circle cx="332.8" cy="124.6" r="2.3" fill="none" stroke="#E2742F" stroke-width="1.45"/>
<circle cx="333.1" cy="127.5" r="2.3" fill="none" stroke="#E2742F" stroke-width="1.45"/>
<circle cx="333.4" cy="125.1" r="2.3" fill="none" stroke="#E2742F" stroke-width="1.45"/>
<circle cx="333.7" cy="122.9" r="2.3" fill="none" stroke="#E2742F" stroke-width="1.45"/>
<circle cx="334.0" cy="123.3" r="2.3" fill="none" stroke="#E2742F" stroke-width="1.45"/>
<circle cx="334.3" cy="124.4" r="2.3" fill="none" stroke="#E2742F" stroke-width="1.45"/>
<circle cx="334.6" cy="125.9" r="2.3" fill="none" stroke="#E2742F" stroke-width="1.45"/>
<circle cx="334.9" cy="123.2" r="2.3" fill="none" stroke="#E2742F" stroke-width="1.45"/>
<circle cx="335.2" cy="125.3" r="2.3" fill="none" stroke="#E2742F" stroke-width="1.45"/>
<circle cx="335.5" cy="126.4" r="2.3" fill="none" stroke="#E2742F" stroke-width="1.45"/>
<circle cx="335.8" cy="125.7" r="2.3" fill="none" stroke="#E2742F" stroke-width="1.45"/>
<circle cx="336.1" cy="121.7" r="2.3" fill="none" stroke="#E2742F" stroke-width="1.45"/>
<circle cx="99.1" cy="91.4" r="2.3" fill="none" stroke="#E2742F" stroke-width="1.3"/>
<circle cx="121.7" cy="81.2" r="2.3" fill="none" stroke="#E2742F" stroke-width="1.3"/>
<circle cx="238.6" cy="56.0" r="2.3" fill="none" stroke="#E2742F" stroke-width="1.3"/>
<circle cx="283.4" cy="51.9" r="2.3" fill="none" stroke="#E2742F" stroke-width="1.3"/>
<circle cx="303.6" cy="103.1" r="2.3" fill="none" stroke="#E2742F" stroke-width="1.3"/>
<circle cx="301.7" cy="107.8" r="2.3" fill="none" stroke="#E2742F" stroke-width="1.3"/>
<circle cx="109.5" cy="117.3" r="2.3" fill="none" stroke="#E2742F" stroke-width="1.3"/>
<circle cx="100.7" cy="118.8" r="2.3" fill="none" stroke="#E2742F" stroke-width="1.3"/>
<circle cx="139.3" cy="116.3" r="2.3" fill="none" stroke="#E2742F" stroke-width="1.3"/>
<circle cx="170.3" cy="113.0" r="2.3" fill="none" stroke="#E2742F" stroke-width="1.3"/>
<circle cx="194.8" cy="113.3" r="2.3" fill="none" stroke="#E2742F" stroke-width="1.3"/>
<circle cx="234.0" cy="113.0" r="2.3" fill="none" stroke="#E2742F" stroke-width="1.3"/>
<circle cx="242.9" cy="116.9" r="2.3" fill="none" stroke="#E2742F" stroke-width="1.3"/>
<circle cx="249.1" cy="115.9" r="2.3" fill="none" stroke="#E2742F" stroke-width="1.3"/>
<circle cx="260.5" cy="113.0" r="2.3" fill="none" stroke="#E2742F" stroke-width="1.3"/>
<circle cx="266.4" cy="116.9" r="2.3" fill="none" stroke="#E2742F" stroke-width="1.3"/>
<circle cx="295.0" cy="114.2" r="2.3" fill="none" stroke="#E2742F" stroke-width="1.3"/>
<circle cx="285.1" cy="118.7" r="2.3" fill="none" stroke="#E2742F" stroke-width="1.3"/>
<circle cx="318.9" cy="117.4" r="2.3" fill="none" stroke="#E2742F" stroke-width="1.3"/>
<circle cx="330.3" cy="114.9" r="2.3" fill="none" stroke="#E2742F" stroke-width="1.3"/>
<circle cx="86.0" cy="125.8" r="2.8" fill="#04366C"/>
<circle cx="86.3" cy="124.1" r="2.8" fill="#04366C"/>
<circle cx="86.6" cy="127.0" r="2.8" fill="#04366C"/>
<circle cx="86.9" cy="124.5" r="2.8" fill="#04366C"/>
<circle cx="87.2" cy="127.2" r="2.8" fill="#04366C"/>
<circle cx="87.6" cy="126.4" r="2.8" fill="#04366C"/>
<circle cx="87.9" cy="121.8" r="2.8" fill="#04366C"/>
<circle cx="88.2" cy="124.8" r="2.8" fill="#04366C"/>
<circle cx="88.5" cy="127.0" r="2.8" fill="#04366C"/>
<circle cx="88.8" cy="126.3" r="2.8" fill="#04366C"/>
<circle cx="89.1" cy="125.6" r="2.8" fill="#04366C"/>
<circle cx="89.4" cy="124.0" r="2.8" fill="#04366C"/>
<circle cx="89.7" cy="127.0" r="2.8" fill="#04366C"/>
<circle cx="90.1" cy="129.2" r="2.8" fill="#04366C"/>
<circle cx="90.4" cy="126.6" r="2.8" fill="#04366C"/>
<circle cx="90.7" cy="126.1" r="2.8" fill="#04366C"/>
<circle cx="91.0" cy="126.0" r="2.8" fill="#04366C"/>
<circle cx="91.3" cy="123.8" r="2.8" fill="#04366C"/>
<circle cx="91.6" cy="125.6" r="2.8" fill="#04366C"/>
<circle cx="91.9" cy="124.7" r="2.8" fill="#04366C"/>
<circle cx="92.2" cy="128.1" r="2.8" fill="#04366C"/>
<circle cx="92.6" cy="124.6" r="2.8" fill="#04366C"/>
<circle cx="92.9" cy="122.5" r="2.8" fill="#04366C"/>
<circle cx="93.2" cy="124.8" r="2.8" fill="#04366C"/>
<circle cx="93.5" cy="125.7" r="2.8" fill="#04366C"/>
<circle cx="93.8" cy="125.9" r="2.8" fill="#04366C"/>
<circle cx="94.1" cy="123.0" r="2.8" fill="#04366C"/>
<circle cx="94.4" cy="127.8" r="2.8" fill="#04366C"/>
<circle cx="94.7" cy="126.3" r="2.8" fill="#04366C"/>
<circle cx="95.1" cy="125.3" r="2.8" fill="#04366C"/>
<circle cx="95.4" cy="124.8" r="2.8" fill="#04366C"/>
<circle cx="95.7" cy="126.9" r="2.8" fill="#04366C"/>
<circle cx="96.0" cy="125.6" r="2.8" fill="#04366C"/>
<circle cx="96.3" cy="126.6" r="2.8" fill="#04366C"/>
<circle cx="96.6" cy="125.9" r="2.8" fill="#04366C"/>
<circle cx="96.9" cy="126.4" r="2.8" fill="#04366C"/>
<circle cx="97.2" cy="128.1" r="2.8" fill="#04366C"/>
<circle cx="97.6" cy="126.2" r="2.8" fill="#04366C"/>
<circle cx="97.9" cy="124.6" r="2.8" fill="#04366C"/>
<circle cx="98.2" cy="127.8" r="2.8" fill="#04366C"/>
<circle cx="98.5" cy="126.6" r="2.8" fill="#04366C"/>
<circle cx="98.8" cy="125.0" r="2.8" fill="#04366C"/>
<circle cx="99.1" cy="128.0" r="2.8" fill="#04366C"/>
<circle cx="99.4" cy="125.8" r="2.8" fill="#04366C"/>
<circle cx="99.7" cy="128.0" r="2.8" fill="#04366C"/>
<circle cx="100.1" cy="124.2" r="2.8" fill="#04366C"/>
<circle cx="100.4" cy="122.1" r="2.8" fill="#04366C"/>
<circle cx="100.7" cy="122.6" r="2.8" fill="#04366C"/>
<circle cx="101.0" cy="126.5" r="2.8" fill="#04366C"/>
<circle cx="101.3" cy="124.9" r="2.8" fill="#04366C"/>
<circle cx="101.6" cy="125.9" r="2.8" fill="#04366C"/>
<circle cx="101.9" cy="126.0" r="2.8" fill="#04366C"/>
<circle cx="102.2" cy="123.4" r="2.8" fill="#04366C"/>
<circle cx="102.6" cy="128.5" r="2.8" fill="#04366C"/>
<circle cx="102.9" cy="124.3" r="2.8" fill="#04366C"/>
<circle cx="103.2" cy="126.2" r="2.8" fill="#04366C"/>
<circle cx="103.5" cy="123.7" r="2.8" fill="#04366C"/>
<circle cx="103.8" cy="125.8" r="2.8" fill="#04366C"/>
<circle cx="104.1" cy="127.3" r="2.8" fill="#04366C"/>
<circle cx="104.4" cy="125.7" r="2.8" fill="#04366C"/>
<circle cx="104.7" cy="124.9" r="2.8" fill="#04366C"/>
<circle cx="105.1" cy="126.1" r="2.8" fill="#04366C"/>
<circle cx="105.4" cy="125.3" r="2.8" fill="#04366C"/>
<circle cx="105.7" cy="127.1" r="2.8" fill="#04366C"/>
<circle cx="106.0" cy="129.9" r="2.8" fill="#04366C"/>
<circle cx="106.3" cy="124.6" r="2.8" fill="#04366C"/>
<circle cx="106.6" cy="124.9" r="2.8" fill="#04366C"/>
<circle cx="106.9" cy="125.9" r="2.8" fill="#04366C"/>
<circle cx="107.2" cy="126.0" r="2.8" fill="#04366C"/>
<circle cx="107.6" cy="124.3" r="2.8" fill="#04366C"/>
<circle cx="107.9" cy="126.9" r="2.8" fill="#04366C"/>
<circle cx="108.2" cy="127.4" r="2.8" fill="#04366C"/>
<circle cx="108.5" cy="126.5" r="2.8" fill="#04366C"/>
<circle cx="108.8" cy="124.1" r="2.8" fill="#04366C"/>
<circle cx="109.1" cy="128.6" r="2.8" fill="#04366C"/>
<circle cx="109.4" cy="124.1" r="2.8" fill="#04366C"/>
<circle cx="109.7" cy="127.3" r="2.8" fill="#04366C"/>
<circle cx="110.0" cy="128.1" r="2.8" fill="#04366C"/>
<circle cx="110.4" cy="123.9" r="2.8" fill="#04366C"/>
<circle cx="110.7" cy="126.3" r="2.8" fill="#04366C"/>
<circle cx="111.0" cy="128.4" r="2.8" fill="#04366C"/>
<circle cx="111.3" cy="126.8" r="2.8" fill="#04366C"/>
<circle cx="111.6" cy="124.5" r="2.8" fill="#04366C"/>
<circle cx="111.9" cy="124.1" r="2.8" fill="#04366C"/>
<circle cx="112.2" cy="126.9" r="2.8" fill="#04366C"/>
<circle cx="112.5" cy="125.4" r="2.8" fill="#04366C"/>
<circle cx="112.9" cy="124.9" r="2.8" fill="#04366C"/>
<circle cx="113.2" cy="127.3" r="2.8" fill="#04366C"/>
<circle cx="113.5" cy="125.5" r="2.8" fill="#04366C"/>
<circle cx="113.8" cy="126.2" r="2.8" fill="#04366C"/>
<circle cx="114.1" cy="127.1" r="2.8" fill="#04366C"/>
<circle cx="114.4" cy="127.0" r="2.8" fill="#04366C"/>
<circle cx="114.7" cy="126.0" r="2.8" fill="#04366C"/>
<circle cx="115.0" cy="126.1" r="2.8" fill="#04366C"/>
<circle cx="115.4" cy="127.1" r="2.8" fill="#04366C"/>
<circle cx="115.7" cy="126.9" r="2.8" fill="#04366C"/>
<circle cx="116.0" cy="124.2" r="2.8" fill="#04366C"/>
<circle cx="116.3" cy="125.8" r="2.8" fill="#04366C"/>
<circle cx="116.6" cy="124.6" r="2.8" fill="#04366C"/>
<circle cx="116.9" cy="124.0" r="2.8" fill="#04366C"/>
<circle cx="117.2" cy="125.1" r="2.8" fill="#04366C"/>
<circle cx="117.5" cy="122.2" r="2.8" fill="#04366C"/>
<circle cx="117.9" cy="127.6" r="2.8" fill="#04366C"/>
<circle cx="118.2" cy="124.7" r="2.8" fill="#04366C"/>
<circle cx="118.5" cy="126.7" r="2.8" fill="#04366C"/>
<circle cx="118.8" cy="122.9" r="2.8" fill="#04366C"/>
<circle cx="119.1" cy="123.2" r="2.8" fill="#04366C"/>
<circle cx="119.4" cy="129.6" r="2.8" fill="#04366C"/>
<circle cx="119.7" cy="127.8" r="2.8" fill="#04366C"/>
<circle cx="120.0" cy="125.0" r="2.8" fill="#04366C"/>
<circle cx="120.4" cy="124.8" r="2.8" fill="#04366C"/>
<circle cx="120.7" cy="124.9" r="2.8" fill="#04366C"/>
<circle cx="121.0" cy="126.3" r="2.8" fill="#04366C"/>
<circle cx="121.3" cy="125.4" r="2.8" fill="#04366C"/>
<circle cx="121.6" cy="125.0" r="2.8" fill="#04366C"/>
<circle cx="121.9" cy="126.3" r="2.8" fill="#04366C"/>
<circle cx="122.2" cy="124.4" r="2.8" fill="#04366C"/>
<circle cx="122.5" cy="130.1" r="2.8" fill="#04366C"/>
<circle cx="122.9" cy="125.0" r="2.8" fill="#04366C"/>
<circle cx="123.2" cy="128.0" r="2.8" fill="#04366C"/>
<circle cx="123.5" cy="124.5" r="2.8" fill="#04366C"/>
<circle cx="123.8" cy="126.5" r="2.8" fill="#04366C"/>
<circle cx="124.1" cy="127.7" r="2.8" fill="#04366C"/>
<circle cx="124.4" cy="125.5" r="2.8" fill="#04366C"/>
<circle cx="124.7" cy="127.7" r="2.8" fill="#04366C"/>
<circle cx="125.0" cy="127.7" r="2.8" fill="#04366C"/>
<circle cx="125.4" cy="128.9" r="2.8" fill="#04366C"/>
<circle cx="125.7" cy="126.2" r="2.8" fill="#04366C"/>
<circle cx="126.0" cy="125.3" r="2.8" fill="#04366C"/>
<circle cx="126.3" cy="124.4" r="2.8" fill="#04366C"/>
<circle cx="126.6" cy="126.4" r="2.8" fill="#04366C"/>
<circle cx="126.9" cy="124.3" r="2.8" fill="#04366C"/>
<circle cx="127.2" cy="126.1" r="2.8" fill="#04366C"/>
<circle cx="127.5" cy="126.3" r="2.8" fill="#04366C"/>
<circle cx="127.9" cy="125.1" r="2.8" fill="#04366C"/>
<circle cx="128.2" cy="124.3" r="2.8" fill="#04366C"/>
<circle cx="128.5" cy="126.7" r="2.8" fill="#04366C"/>
<circle cx="128.8" cy="126.6" r="2.8" fill="#04366C"/>
<circle cx="129.1" cy="126.4" r="2.8" fill="#04366C"/>
<circle cx="129.4" cy="126.0" r="2.8" fill="#04366C"/>
<circle cx="129.7" cy="127.7" r="2.8" fill="#04366C"/>
<circle cx="130.0" cy="124.4" r="2.8" fill="#04366C"/>
<circle cx="130.3" cy="126.9" r="2.8" fill="#04366C"/>
<circle cx="130.7" cy="125.3" r="2.8" fill="#04366C"/>
<circle cx="131.0" cy="127.6" r="2.8" fill="#04366C"/>
<circle cx="131.3" cy="125.5" r="2.8" fill="#04366C"/>
<circle cx="131.6" cy="125.5" r="2.8" fill="#04366C"/>
<circle cx="131.9" cy="126.9" r="2.8" fill="#04366C"/>
<circle cx="132.2" cy="122.6" r="2.8" fill="#04366C"/>
<circle cx="132.5" cy="125.5" r="2.8" fill="#04366C"/>
<circle cx="132.8" cy="123.0" r="2.8" fill="#04366C"/>
<circle cx="133.2" cy="124.5" r="2.8" fill="#04366C"/>
<circle cx="133.5" cy="127.3" r="2.8" fill="#04366C"/>
<circle cx="133.8" cy="126.8" r="2.8" fill="#04366C"/>
<circle cx="134.1" cy="125.4" r="2.8" fill="#04366C"/>
<circle cx="134.4" cy="126.0" r="2.8" fill="#04366C"/>
<circle cx="134.7" cy="126.1" r="2.8" fill="#04366C"/>
<circle cx="135.0" cy="126.7" r="2.8" fill="#04366C"/>
<circle cx="135.3" cy="129.3" r="2.8" fill="#04366C"/>
<circle cx="135.7" cy="126.5" r="2.8" fill="#04366C"/>
<circle cx="136.0" cy="130.0" r="2.8" fill="#04366C"/>
<circle cx="136.3" cy="125.5" r="2.8" fill="#04366C"/>
<circle cx="136.6" cy="127.4" r="2.8" fill="#04366C"/>
<circle cx="136.9" cy="127.4" r="2.8" fill="#04366C"/>
<circle cx="137.2" cy="126.5" r="2.8" fill="#04366C"/>
<circle cx="137.5" cy="125.7" r="2.8" fill="#04366C"/>
<circle cx="137.8" cy="128.7" r="2.8" fill="#04366C"/>
<circle cx="138.2" cy="129.2" r="2.8" fill="#04366C"/>
<circle cx="138.5" cy="128.0" r="2.8" fill="#04366C"/>
<circle cx="138.8" cy="129.7" r="2.8" fill="#04366C"/>
<circle cx="139.1" cy="127.8" r="2.8" fill="#04366C"/>
<circle cx="139.4" cy="123.4" r="2.8" fill="#04366C"/>
<circle cx="139.7" cy="128.0" r="2.8" fill="#04366C"/>
<circle cx="140.0" cy="125.0" r="2.8" fill="#04366C"/>
<circle cx="140.3" cy="128.5" r="2.8" fill="#04366C"/>
<circle cx="140.7" cy="125.6" r="2.8" fill="#04366C"/>
<circle cx="141.0" cy="126.7" r="2.8" fill="#04366C"/>
<circle cx="141.3" cy="126.3" r="2.8" fill="#04366C"/>
<circle cx="141.6" cy="125.2" r="2.8" fill="#04366C"/>
<circle cx="141.9" cy="123.1" r="2.8" fill="#04366C"/>
<circle cx="142.2" cy="125.8" r="2.8" fill="#04366C"/>
<circle cx="142.5" cy="125.9" r="2.8" fill="#04366C"/>
<circle cx="142.8" cy="127.9" r="2.8" fill="#04366C"/>
<circle cx="143.2" cy="125.1" r="2.8" fill="#04366C"/>
<circle cx="143.5" cy="126.6" r="2.8" fill="#04366C"/>
<circle cx="143.8" cy="124.7" r="2.8" fill="#04366C"/>
<circle cx="144.1" cy="126.2" r="2.8" fill="#04366C"/>
<circle cx="144.4" cy="123.1" r="2.8" fill="#04366C"/>
<circle cx="144.7" cy="129.6" r="2.8" fill="#04366C"/>
<circle cx="145.0" cy="126.7" r="2.8" fill="#04366C"/>
<circle cx="145.3" cy="124.6" r="2.8" fill="#04366C"/>
<circle cx="145.7" cy="126.8" r="2.8" fill="#04366C"/>
<circle cx="146.0" cy="127.5" r="2.8" fill="#04366C"/>
<circle cx="146.3" cy="126.6" r="2.8" fill="#04366C"/>
<circle cx="146.6" cy="128.6" r="2.8" fill="#04366C"/>
<circle cx="146.9" cy="125.9" r="2.8" fill="#04366C"/>
<circle cx="147.2" cy="121.9" r="2.8" fill="#04366C"/>
<circle cx="147.5" cy="124.1" r="2.8" fill="#04366C"/>
<circle cx="147.8" cy="128.1" r="2.8" fill="#04366C"/>
<circle cx="148.2" cy="127.7" r="2.8" fill="#04366C"/>
<circle cx="148.5" cy="126.7" r="2.8" fill="#04366C"/>
<circle cx="148.8" cy="123.9" r="2.8" fill="#04366C"/>
<circle cx="149.1" cy="127.5" r="2.8" fill="#04366C"/>
<circle cx="149.4" cy="127.2" r="2.8" fill="#04366C"/>
<circle cx="149.7" cy="124.2" r="2.8" fill="#04366C"/>
<circle cx="150.0" cy="124.2" r="2.8" fill="#04366C"/>
<circle cx="150.3" cy="126.6" r="2.8" fill="#04366C"/>
<circle cx="150.7" cy="128.1" r="2.8" fill="#04366C"/>
<circle cx="151.0" cy="128.9" r="2.8" fill="#04366C"/>
<circle cx="151.3" cy="127.3" r="2.8" fill="#04366C"/>
<circle cx="151.6" cy="130.3" r="2.8" fill="#04366C"/>
<circle cx="151.9" cy="124.4" r="2.8" fill="#04366C"/>
<circle cx="152.2" cy="127.1" r="2.8" fill="#04366C"/>
<circle cx="152.5" cy="124.9" r="2.8" fill="#04366C"/>
<circle cx="152.8" cy="122.2" r="2.8" fill="#04366C"/>
<circle cx="153.1" cy="123.6" r="2.8" fill="#04366C"/>
<circle cx="153.5" cy="128.1" r="2.8" fill="#04366C"/>
<circle cx="153.8" cy="124.2" r="2.8" fill="#04366C"/>
<circle cx="154.1" cy="123.6" r="2.8" fill="#04366C"/>
<circle cx="154.4" cy="127.3" r="2.8" fill="#04366C"/>
<circle cx="154.7" cy="127.8" r="2.8" fill="#04366C"/>
<circle cx="155.0" cy="126.1" r="2.8" fill="#04366C"/>
<circle cx="155.3" cy="129.0" r="2.8" fill="#04366C"/>
<circle cx="155.6" cy="123.0" r="2.8" fill="#04366C"/>
<circle cx="156.0" cy="130.6" r="2.8" fill="#04366C"/>
<circle cx="156.3" cy="128.1" r="2.8" fill="#04366C"/>
<circle cx="156.6" cy="126.4" r="2.8" fill="#04366C"/>
<circle cx="156.9" cy="126.3" r="2.8" fill="#04366C"/>
<circle cx="157.2" cy="125.6" r="2.8" fill="#04366C"/>
<circle cx="157.5" cy="125.4" r="2.8" fill="#04366C"/>
<circle cx="157.8" cy="126.3" r="2.8" fill="#04366C"/>
<circle cx="158.1" cy="123.7" r="2.8" fill="#04366C"/>
<circle cx="158.5" cy="130.1" r="2.8" fill="#04366C"/>
<circle cx="158.8" cy="125.9" r="2.8" fill="#04366C"/>
<circle cx="159.1" cy="127.3" r="2.8" fill="#04366C"/>
<circle cx="159.4" cy="125.6" r="2.8" fill="#04366C"/>
<circle cx="159.7" cy="125.5" r="2.8" fill="#04366C"/>
<circle cx="160.0" cy="127.7" r="2.8" fill="#04366C"/>
<circle cx="160.3" cy="127.1" r="2.8" fill="#04366C"/>
<circle cx="160.6" cy="124.3" r="2.8" fill="#04366C"/>
<circle cx="161.0" cy="125.2" r="2.8" fill="#04366C"/>
<circle cx="161.3" cy="127.2" r="2.8" fill="#04366C"/>
<circle cx="161.6" cy="121.9" r="2.8" fill="#04366C"/>
<circle cx="161.9" cy="121.4" r="2.8" fill="#04366C"/>
<circle cx="162.2" cy="128.8" r="2.8" fill="#04366C"/>
<circle cx="162.5" cy="125.3" r="2.8" fill="#04366C"/>
<circle cx="162.8" cy="121.0" r="2.8" fill="#04366C"/>
<circle cx="163.1" cy="124.3" r="2.8" fill="#04366C"/>
<circle cx="163.5" cy="125.5" r="2.8" fill="#04366C"/>
<circle cx="163.8" cy="126.3" r="2.8" fill="#04366C"/>
<circle cx="164.1" cy="126.9" r="2.8" fill="#04366C"/>
<circle cx="164.4" cy="126.3" r="2.8" fill="#04366C"/>
<circle cx="164.7" cy="127.0" r="2.8" fill="#04366C"/>
<circle cx="165.0" cy="124.4" r="2.8" fill="#04366C"/>
<circle cx="165.3" cy="126.7" r="2.8" fill="#04366C"/>
<circle cx="165.6" cy="126.8" r="2.8" fill="#04366C"/>
<circle cx="166.0" cy="128.2" r="2.8" fill="#04366C"/>
<circle cx="166.3" cy="126.0" r="2.8" fill="#04366C"/>
<circle cx="166.6" cy="127.6" r="2.8" fill="#04366C"/>
<circle cx="166.9" cy="126.2" r="2.8" fill="#04366C"/>
<circle cx="167.2" cy="123.8" r="2.8" fill="#04366C"/>
<circle cx="167.5" cy="125.2" r="2.8" fill="#04366C"/>
<circle cx="167.8" cy="124.9" r="2.8" fill="#04366C"/>
<circle cx="168.1" cy="125.2" r="2.8" fill="#04366C"/>
<circle cx="168.5" cy="125.8" r="2.8" fill="#04366C"/>
<circle cx="168.8" cy="126.1" r="2.8" fill="#04366C"/>
<circle cx="169.1" cy="126.5" r="2.8" fill="#04366C"/>
<circle cx="169.4" cy="124.4" r="2.8" fill="#04366C"/>
<circle cx="169.7" cy="128.0" r="2.8" fill="#04366C"/>
<circle cx="170.0" cy="123.3" r="2.8" fill="#04366C"/>
<circle cx="170.3" cy="125.8" r="2.8" fill="#04366C"/>
<circle cx="170.6" cy="127.4" r="2.8" fill="#04366C"/>
<circle cx="171.0" cy="126.8" r="2.8" fill="#04366C"/>
<circle cx="171.3" cy="127.2" r="2.8" fill="#04366C"/>
<circle cx="171.6" cy="125.6" r="2.8" fill="#04366C"/>
<circle cx="171.9" cy="127.3" r="2.8" fill="#04366C"/>
<circle cx="172.2" cy="123.6" r="2.8" fill="#04366C"/>
<circle cx="172.5" cy="127.4" r="2.8" fill="#04366C"/>
<circle cx="172.8" cy="130.3" r="2.8" fill="#04366C"/>
<circle cx="173.1" cy="127.3" r="2.8" fill="#04366C"/>
<circle cx="173.4" cy="129.8" r="2.8" fill="#04366C"/>
<circle cx="173.8" cy="126.0" r="2.8" fill="#04366C"/>
<circle cx="174.1" cy="123.8" r="2.8" fill="#04366C"/>
<circle cx="174.4" cy="124.6" r="2.8" fill="#04366C"/>
<circle cx="174.7" cy="128.5" r="2.8" fill="#04366C"/>
<circle cx="175.0" cy="127.4" r="2.8" fill="#04366C"/>
<circle cx="175.3" cy="122.4" r="2.8" fill="#04366C"/>
<circle cx="175.6" cy="125.3" r="2.8" fill="#04366C"/>
<circle cx="175.9" cy="125.9" r="2.8" fill="#04366C"/>
<circle cx="176.3" cy="123.8" r="2.8" fill="#04366C"/>
<circle cx="176.6" cy="121.1" r="2.8" fill="#04366C"/>
<circle cx="176.9" cy="123.3" r="2.8" fill="#04366C"/>
<circle cx="177.2" cy="125.6" r="2.8" fill="#04366C"/>
<circle cx="177.5" cy="125.2" r="2.8" fill="#04366C"/>
<circle cx="177.8" cy="124.7" r="2.8" fill="#04366C"/>
<circle cx="178.1" cy="127.1" r="2.8" fill="#04366C"/>
<circle cx="178.4" cy="128.0" r="2.8" fill="#04366C"/>
<circle cx="178.8" cy="125.8" r="2.8" fill="#04366C"/>
<circle cx="179.1" cy="127.7" r="2.8" fill="#04366C"/>
<circle cx="179.4" cy="126.0" r="2.8" fill="#04366C"/>
<circle cx="179.7" cy="125.7" r="2.8" fill="#04366C"/>
<circle cx="180.0" cy="121.3" r="2.8" fill="#04366C"/>
<circle cx="180.3" cy="127.6" r="2.8" fill="#04366C"/>
<circle cx="180.6" cy="126.1" r="2.8" fill="#04366C"/>
<circle cx="180.9" cy="126.2" r="2.8" fill="#04366C"/>
<circle cx="181.3" cy="125.0" r="2.8" fill="#04366C"/>
<circle cx="181.6" cy="123.8" r="2.8" fill="#04366C"/>
<circle cx="181.9" cy="126.8" r="2.8" fill="#04366C"/>
<circle cx="182.2" cy="127.5" r="2.8" fill="#04366C"/>
<circle cx="182.5" cy="129.1" r="2.8" fill="#04366C"/>
<circle cx="182.8" cy="127.7" r="2.8" fill="#04366C"/>
<circle cx="183.1" cy="124.8" r="2.8" fill="#04366C"/>
<circle cx="183.4" cy="125.8" r="2.8" fill="#04366C"/>
<circle cx="183.8" cy="127.9" r="2.8" fill="#04366C"/>
<circle cx="184.1" cy="126.6" r="2.8" fill="#04366C"/>
<circle cx="184.4" cy="125.8" r="2.8" fill="#04366C"/>
<circle cx="184.7" cy="124.9" r="2.8" fill="#04366C"/>
<circle cx="185.0" cy="127.0" r="2.8" fill="#04366C"/>
<circle cx="185.3" cy="126.4" r="2.8" fill="#04366C"/>
<circle cx="185.6" cy="129.5" r="2.8" fill="#04366C"/>
<circle cx="185.9" cy="128.1" r="2.8" fill="#04366C"/>
<circle cx="186.3" cy="122.7" r="2.8" fill="#04366C"/>
<circle cx="186.6" cy="130.2" r="2.8" fill="#04366C"/>
<circle cx="186.9" cy="126.5" r="2.8" fill="#04366C"/>
<circle cx="187.2" cy="125.5" r="2.8" fill="#04366C"/>
<circle cx="187.5" cy="126.6" r="2.8" fill="#04366C"/>
<circle cx="187.8" cy="127.5" r="2.8" fill="#04366C"/>
<circle cx="188.1" cy="126.0" r="2.8" fill="#04366C"/>
<circle cx="188.4" cy="125.9" r="2.8" fill="#04366C"/>
<circle cx="188.8" cy="126.0" r="2.8" fill="#04366C"/>
<circle cx="189.1" cy="129.6" r="2.8" fill="#04366C"/>
<circle cx="189.4" cy="126.2" r="2.8" fill="#04366C"/>
<circle cx="189.7" cy="127.6" r="2.8" fill="#04366C"/>
<circle cx="190.0" cy="127.0" r="2.8" fill="#04366C"/>
<circle cx="190.3" cy="125.4" r="2.8" fill="#04366C"/>
<circle cx="190.6" cy="124.6" r="2.8" fill="#04366C"/>
<circle cx="190.9" cy="124.1" r="2.8" fill="#04366C"/>
<circle cx="191.3" cy="126.9" r="2.8" fill="#04366C"/>
<circle cx="191.6" cy="124.1" r="2.8" fill="#04366C"/>
<circle cx="191.9" cy="123.6" r="2.8" fill="#04366C"/>
<circle cx="192.2" cy="123.7" r="2.8" fill="#04366C"/>
<circle cx="192.5" cy="123.2" r="2.8" fill="#04366C"/>
<circle cx="192.8" cy="126.2" r="2.8" fill="#04366C"/>
<circle cx="193.1" cy="126.2" r="2.8" fill="#04366C"/>
<circle cx="193.4" cy="124.3" r="2.8" fill="#04366C"/>
<circle cx="193.8" cy="128.6" r="2.8" fill="#04366C"/>
<circle cx="194.1" cy="125.5" r="2.8" fill="#04366C"/>
<circle cx="194.4" cy="126.9" r="2.8" fill="#04366C"/>
<circle cx="194.7" cy="126.6" r="2.8" fill="#04366C"/>
<circle cx="195.0" cy="129.3" r="2.8" fill="#04366C"/>
<circle cx="195.3" cy="127.6" r="2.8" fill="#04366C"/>
<circle cx="195.6" cy="125.9" r="2.8" fill="#04366C"/>
<circle cx="195.9" cy="124.1" r="2.8" fill="#04366C"/>
<circle cx="196.2" cy="123.9" r="2.8" fill="#04366C"/>
<circle cx="196.6" cy="126.0" r="2.8" fill="#04366C"/>
<circle cx="196.9" cy="126.3" r="2.8" fill="#04366C"/>
<circle cx="197.2" cy="127.5" r="2.8" fill="#04366C"/>
<circle cx="197.5" cy="125.1" r="2.8" fill="#04366C"/>
<circle cx="197.8" cy="126.4" r="2.8" fill="#04366C"/>
<circle cx="198.1" cy="124.7" r="2.8" fill="#04366C"/>
<circle cx="198.4" cy="122.4" r="2.8" fill="#04366C"/>
<circle cx="198.7" cy="125.9" r="2.8" fill="#04366C"/>
<circle cx="199.1" cy="128.8" r="2.8" fill="#04366C"/>
<circle cx="199.4" cy="127.6" r="2.8" fill="#04366C"/>
<circle cx="199.7" cy="128.7" r="2.8" fill="#04366C"/>
<circle cx="200.0" cy="128.2" r="2.8" fill="#04366C"/>
<circle cx="200.3" cy="123.3" r="2.8" fill="#04366C"/>
<circle cx="200.6" cy="125.4" r="2.8" fill="#04366C"/>
<circle cx="200.9" cy="128.9" r="2.8" fill="#04366C"/>
<circle cx="201.2" cy="124.6" r="2.8" fill="#04366C"/>
<circle cx="201.6" cy="123.4" r="2.8" fill="#04366C"/>
<circle cx="201.9" cy="126.6" r="2.8" fill="#04366C"/>
<circle cx="202.2" cy="127.2" r="2.8" fill="#04366C"/>
<circle cx="202.5" cy="126.5" r="2.8" fill="#04366C"/>
<circle cx="202.8" cy="125.3" r="2.8" fill="#04366C"/>
<circle cx="203.1" cy="124.6" r="2.8" fill="#04366C"/>
<circle cx="203.4" cy="123.6" r="2.8" fill="#04366C"/>
<circle cx="203.7" cy="123.5" r="2.8" fill="#04366C"/>
<circle cx="204.1" cy="123.6" r="2.8" fill="#04366C"/>
<circle cx="204.4" cy="123.2" r="2.8" fill="#04366C"/>
<circle cx="204.7" cy="124.6" r="2.8" fill="#04366C"/>
<circle cx="205.0" cy="128.9" r="2.8" fill="#04366C"/>
<circle cx="205.3" cy="126.1" r="2.8" fill="#04366C"/>
<circle cx="205.6" cy="125.3" r="2.8" fill="#04366C"/>
<circle cx="205.9" cy="126.6" r="2.8" fill="#04366C"/>
<circle cx="206.2" cy="124.1" r="2.8" fill="#04366C"/>
<circle cx="206.6" cy="126.6" r="2.8" fill="#04366C"/>
<circle cx="206.9" cy="127.7" r="2.8" fill="#04366C"/>
<circle cx="207.2" cy="123.1" r="2.8" fill="#04366C"/>
<circle cx="207.5" cy="124.6" r="2.8" fill="#04366C"/>
<circle cx="207.8" cy="125.5" r="2.8" fill="#04366C"/>
<circle cx="208.1" cy="124.1" r="2.8" fill="#04366C"/>
<circle cx="208.4" cy="123.8" r="2.8" fill="#04366C"/>
<circle cx="208.7" cy="125.2" r="2.8" fill="#04366C"/>
<circle cx="209.1" cy="130.7" r="2.8" fill="#04366C"/>
<circle cx="209.4" cy="127.2" r="2.8" fill="#04366C"/>
<circle cx="209.7" cy="126.8" r="2.8" fill="#04366C"/>
<circle cx="210.0" cy="127.8" r="2.8" fill="#04366C"/>
<circle cx="210.3" cy="125.5" r="2.8" fill="#04366C"/>
<circle cx="210.6" cy="123.5" r="2.8" fill="#04366C"/>
<circle cx="210.9" cy="126.8" r="2.8" fill="#04366C"/>
<circle cx="211.2" cy="128.1" r="2.8" fill="#04366C"/>
<circle cx="211.6" cy="122.0" r="2.8" fill="#04366C"/>
<circle cx="211.9" cy="126.7" r="2.8" fill="#04366C"/>
<circle cx="212.2" cy="128.2" r="2.8" fill="#04366C"/>
<circle cx="212.5" cy="125.4" r="2.8" fill="#04366C"/>
<circle cx="212.8" cy="125.1" r="2.8" fill="#04366C"/>
<circle cx="213.1" cy="127.2" r="2.8" fill="#04366C"/>
<circle cx="213.4" cy="124.4" r="2.8" fill="#04366C"/>
<circle cx="213.7" cy="126.8" r="2.8" fill="#04366C"/>
<circle cx="214.1" cy="127.6" r="2.8" fill="#04366C"/>
<circle cx="214.4" cy="125.5" r="2.8" fill="#04366C"/>
<circle cx="214.7" cy="124.4" r="2.8" fill="#04366C"/>
<circle cx="215.0" cy="127.1" r="2.8" fill="#04366C"/>
<circle cx="215.3" cy="125.3" r="2.8" fill="#04366C"/>
<circle cx="215.6" cy="126.1" r="2.8" fill="#04366C"/>
<circle cx="215.9" cy="120.5" r="2.8" fill="#04366C"/>
<circle cx="216.2" cy="127.2" r="2.8" fill="#04366C"/>
<circle cx="216.5" cy="123.2" r="2.8" fill="#04366C"/>
<circle cx="216.9" cy="126.0" r="2.8" fill="#04366C"/>
<circle cx="217.2" cy="126.1" r="2.8" fill="#04366C"/>
<circle cx="217.5" cy="124.5" r="2.8" fill="#04366C"/>
<circle cx="217.8" cy="124.2" r="2.8" fill="#04366C"/>
<circle cx="218.1" cy="123.5" r="2.8" fill="#04366C"/>
<circle cx="218.4" cy="125.3" r="2.8" fill="#04366C"/>
<circle cx="218.7" cy="127.0" r="2.8" fill="#04366C"/>
<circle cx="219.0" cy="126.9" r="2.8" fill="#04366C"/>
<circle cx="219.4" cy="124.9" r="2.8" fill="#04366C"/>
<circle cx="219.7" cy="124.8" r="2.8" fill="#04366C"/>
<circle cx="220.0" cy="123.2" r="2.8" fill="#04366C"/>
<circle cx="220.3" cy="125.1" r="2.8" fill="#04366C"/>
<circle cx="220.6" cy="123.9" r="2.8" fill="#04366C"/>
<circle cx="220.9" cy="123.0" r="2.8" fill="#04366C"/>
<circle cx="221.2" cy="125.6" r="2.8" fill="#04366C"/>
<circle cx="221.5" cy="128.7" r="2.8" fill="#04366C"/>
<circle cx="221.9" cy="128.1" r="2.8" fill="#04366C"/>
<circle cx="222.2" cy="128.6" r="2.8" fill="#04366C"/>
<circle cx="222.5" cy="122.8" r="2.8" fill="#04366C"/>
<circle cx="222.8" cy="127.5" r="2.8" fill="#04366C"/>
<circle cx="223.1" cy="123.5" r="2.8" fill="#04366C"/>
<circle cx="223.4" cy="124.8" r="2.8" fill="#04366C"/>
<circle cx="223.7" cy="122.6" r="2.8" fill="#04366C"/>
<circle cx="224.0" cy="124.0" r="2.8" fill="#04366C"/>
<circle cx="224.4" cy="126.1" r="2.8" fill="#04366C"/>
<circle cx="224.7" cy="126.3" r="2.8" fill="#04366C"/>
<circle cx="225.0" cy="125.7" r="2.8" fill="#04366C"/>
<circle cx="225.3" cy="125.6" r="2.8" fill="#04366C"/>
<circle cx="225.6" cy="126.9" r="2.8" fill="#04366C"/>
<circle cx="225.9" cy="125.9" r="2.8" fill="#04366C"/>
<circle cx="226.2" cy="122.8" r="2.8" fill="#04366C"/>
<circle cx="226.5" cy="129.1" r="2.8" fill="#04366C"/>
<circle cx="226.9" cy="125.4" r="2.8" fill="#04366C"/>
<circle cx="227.2" cy="127.6" r="2.8" fill="#04366C"/>
<circle cx="227.5" cy="125.5" r="2.8" fill="#04366C"/>
<circle cx="227.8" cy="124.3" r="2.8" fill="#04366C"/>
<circle cx="228.1" cy="126.0" r="2.8" fill="#04366C"/>
<circle cx="228.4" cy="124.4" r="2.8" fill="#04366C"/>
<circle cx="228.7" cy="128.9" r="2.8" fill="#04366C"/>
<circle cx="229.0" cy="123.8" r="2.8" fill="#04366C"/>
<circle cx="229.4" cy="127.0" r="2.8" fill="#04366C"/>
<circle cx="229.7" cy="124.7" r="2.8" fill="#04366C"/>
<circle cx="230.0" cy="125.5" r="2.8" fill="#04366C"/>
<circle cx="230.3" cy="130.8" r="2.8" fill="#04366C"/>
<circle cx="230.6" cy="127.3" r="2.8" fill="#04366C"/>
<circle cx="230.9" cy="125.5" r="2.8" fill="#04366C"/>
<circle cx="231.2" cy="122.9" r="2.8" fill="#04366C"/>
<circle cx="231.5" cy="125.3" r="2.8" fill="#04366C"/>
<circle cx="231.9" cy="125.4" r="2.8" fill="#04366C"/>
<circle cx="232.2" cy="128.6" r="2.8" fill="#04366C"/>
<circle cx="232.5" cy="123.2" r="2.8" fill="#04366C"/>
<circle cx="232.8" cy="122.4" r="2.8" fill="#04366C"/>
<circle cx="233.1" cy="125.8" r="2.8" fill="#04366C"/>
<circle cx="233.4" cy="126.3" r="2.8" fill="#04366C"/>
<circle cx="233.7" cy="129.0" r="2.8" fill="#04366C"/>
<circle cx="234.0" cy="124.2" r="2.8" fill="#04366C"/>
<circle cx="234.4" cy="120.7" r="2.8" fill="#04366C"/>
<circle cx="234.7" cy="124.5" r="2.8" fill="#04366C"/>
<circle cx="235.0" cy="123.5" r="2.8" fill="#04366C"/>
<circle cx="235.3" cy="124.9" r="2.8" fill="#04366C"/>
<circle cx="235.6" cy="127.8" r="2.8" fill="#04366C"/>
<circle cx="235.9" cy="123.3" r="2.8" fill="#04366C"/>
<circle cx="236.2" cy="128.2" r="2.8" fill="#04366C"/>
<circle cx="236.5" cy="126.3" r="2.8" fill="#04366C"/>
<circle cx="236.9" cy="125.4" r="2.8" fill="#04366C"/>
<circle cx="237.2" cy="124.2" r="2.8" fill="#04366C"/>
<circle cx="237.5" cy="125.1" r="2.8" fill="#04366C"/>
<circle cx="237.8" cy="125.1" r="2.8" fill="#04366C"/>
<circle cx="238.1" cy="127.3" r="2.8" fill="#04366C"/>
<circle cx="238.4" cy="128.3" r="2.8" fill="#04366C"/>
<circle cx="238.7" cy="125.8" r="2.8" fill="#04366C"/>
<circle cx="239.0" cy="127.2" r="2.8" fill="#04366C"/>
<circle cx="239.3" cy="128.4" r="2.8" fill="#04366C"/>
<circle cx="239.7" cy="128.3" r="2.8" fill="#04366C"/>
<circle cx="240.0" cy="126.8" r="2.8" fill="#04366C"/>
<circle cx="240.3" cy="129.4" r="2.8" fill="#04366C"/>
<circle cx="240.6" cy="128.5" r="2.8" fill="#04366C"/>
<circle cx="240.9" cy="129.0" r="2.8" fill="#04366C"/>
<circle cx="241.2" cy="125.5" r="2.8" fill="#04366C"/>
<circle cx="241.5" cy="125.1" r="2.8" fill="#04366C"/>
<circle cx="241.8" cy="122.1" r="2.8" fill="#04366C"/>
<circle cx="242.2" cy="128.7" r="2.8" fill="#04366C"/>
<circle cx="242.5" cy="127.2" r="2.8" fill="#04366C"/>
<circle cx="242.8" cy="124.1" r="2.8" fill="#04366C"/>
<circle cx="243.1" cy="126.3" r="2.8" fill="#04366C"/>
<circle cx="243.4" cy="126.5" r="2.8" fill="#04366C"/>
<circle cx="243.7" cy="122.6" r="2.8" fill="#04366C"/>
<circle cx="244.0" cy="126.5" r="2.8" fill="#04366C"/>
<circle cx="244.3" cy="128.1" r="2.8" fill="#04366C"/>
<circle cx="244.7" cy="128.4" r="2.8" fill="#04366C"/>
<circle cx="245.0" cy="125.2" r="2.8" fill="#04366C"/>
<circle cx="245.3" cy="125.3" r="2.8" fill="#04366C"/>
<circle cx="245.6" cy="128.5" r="2.8" fill="#04366C"/>
<circle cx="245.9" cy="127.8" r="2.8" fill="#04366C"/>
<circle cx="246.2" cy="124.9" r="2.8" fill="#04366C"/>
<circle cx="246.5" cy="124.8" r="2.8" fill="#04366C"/>
<circle cx="246.8" cy="127.1" r="2.8" fill="#04366C"/>
<circle cx="247.2" cy="124.7" r="2.8" fill="#04366C"/>
<circle cx="247.5" cy="124.8" r="2.8" fill="#04366C"/>
<circle cx="247.8" cy="129.3" r="2.8" fill="#04366C"/>
<circle cx="248.1" cy="126.5" r="2.8" fill="#04366C"/>
<circle cx="248.4" cy="125.1" r="2.8" fill="#04366C"/>
<circle cx="248.7" cy="127.0" r="2.8" fill="#04366C"/>
<circle cx="249.0" cy="130.0" r="2.8" fill="#04366C"/>
<circle cx="249.3" cy="126.4" r="2.8" fill="#04366C"/>
<circle cx="249.7" cy="124.5" r="2.8" fill="#04366C"/>
<circle cx="250.0" cy="122.9" r="2.8" fill="#04366C"/>
<circle cx="250.3" cy="130.1" r="2.8" fill="#04366C"/>
<circle cx="250.6" cy="120.9" r="2.8" fill="#04366C"/>
<circle cx="250.9" cy="128.0" r="2.8" fill="#04366C"/>
<circle cx="251.2" cy="124.1" r="2.8" fill="#04366C"/>
<circle cx="251.5" cy="123.5" r="2.8" fill="#04366C"/>
<circle cx="251.8" cy="124.0" r="2.8" fill="#04366C"/>
<circle cx="252.2" cy="125.6" r="2.8" fill="#04366C"/>
<circle cx="252.5" cy="128.1" r="2.8" fill="#04366C"/>
<circle cx="252.8" cy="124.7" r="2.8" fill="#04366C"/>
<circle cx="253.1" cy="127.2" r="2.8" fill="#04366C"/>
<circle cx="253.4" cy="130.7" r="2.8" fill="#04366C"/>
<circle cx="253.7" cy="120.5" r="2.8" fill="#04366C"/>
<circle cx="254.0" cy="124.5" r="2.8" fill="#04366C"/>
<circle cx="254.3" cy="122.4" r="2.8" fill="#04366C"/>
<circle cx="254.7" cy="127.6" r="2.8" fill="#04366C"/>
<circle cx="255.0" cy="123.1" r="2.8" fill="#04366C"/>
<circle cx="255.3" cy="122.9" r="2.8" fill="#04366C"/>
<circle cx="255.6" cy="122.9" r="2.8" fill="#04366C"/>
<circle cx="255.9" cy="125.9" r="2.8" fill="#04366C"/>
<circle cx="256.2" cy="128.2" r="2.8" fill="#04366C"/>
<circle cx="256.5" cy="126.2" r="2.8" fill="#04366C"/>
<circle cx="256.8" cy="130.1" r="2.8" fill="#04366C"/>
<circle cx="257.2" cy="129.1" r="2.8" fill="#04366C"/>
<circle cx="257.5" cy="125.7" r="2.8" fill="#04366C"/>
<circle cx="257.8" cy="127.8" r="2.8" fill="#04366C"/>
<circle cx="258.1" cy="126.2" r="2.8" fill="#04366C"/>
<circle cx="258.4" cy="126.1" r="2.8" fill="#04366C"/>
<circle cx="258.7" cy="122.2" r="2.8" fill="#04366C"/>
<circle cx="259.0" cy="123.4" r="2.8" fill="#04366C"/>
<circle cx="259.3" cy="126.0" r="2.8" fill="#04366C"/>
<circle cx="259.6" cy="123.6" r="2.8" fill="#04366C"/>
<circle cx="260.0" cy="127.4" r="2.8" fill="#04366C"/>
<circle cx="260.3" cy="126.5" r="2.8" fill="#04366C"/>
<circle cx="260.6" cy="124.1" r="2.8" fill="#04366C"/>
<circle cx="260.9" cy="128.3" r="2.8" fill="#04366C"/>
<circle cx="261.2" cy="126.4" r="2.8" fill="#04366C"/>
<circle cx="261.5" cy="128.4" r="2.8" fill="#04366C"/>
<circle cx="261.8" cy="125.7" r="2.8" fill="#04366C"/>
<circle cx="262.1" cy="122.8" r="2.8" fill="#04366C"/>
<circle cx="262.5" cy="127.3" r="2.8" fill="#04366C"/>
<circle cx="262.8" cy="125.5" r="2.8" fill="#04366C"/>
<circle cx="263.1" cy="127.6" r="2.8" fill="#04366C"/>
<circle cx="263.4" cy="128.1" r="2.8" fill="#04366C"/>
<circle cx="263.7" cy="128.2" r="2.8" fill="#04366C"/>
<circle cx="264.0" cy="123.1" r="2.8" fill="#04366C"/>
<circle cx="264.3" cy="121.4" r="2.8" fill="#04366C"/>
<circle cx="264.6" cy="125.0" r="2.8" fill="#04366C"/>
<circle cx="265.0" cy="127.3" r="2.8" fill="#04366C"/>
<circle cx="265.3" cy="124.5" r="2.8" fill="#04366C"/>
<circle cx="265.6" cy="126.5" r="2.8" fill="#04366C"/>
<circle cx="265.9" cy="124.4" r="2.8" fill="#04366C"/>
<circle cx="266.2" cy="125.3" r="2.8" fill="#04366C"/>
<circle cx="266.5" cy="125.4" r="2.8" fill="#04366C"/>
<circle cx="266.8" cy="124.7" r="2.8" fill="#04366C"/>
<circle cx="267.1" cy="127.0" r="2.8" fill="#04366C"/>
<circle cx="267.5" cy="126.7" r="2.8" fill="#04366C"/>
<circle cx="267.8" cy="129.2" r="2.8" fill="#04366C"/>
<circle cx="268.1" cy="126.7" r="2.8" fill="#04366C"/>
<circle cx="268.4" cy="128.6" r="2.8" fill="#04366C"/>
<circle cx="268.7" cy="126.2" r="2.8" fill="#04366C"/>
<circle cx="269.0" cy="127.7" r="2.8" fill="#04366C"/>
<circle cx="269.3" cy="125.7" r="2.8" fill="#04366C"/>
<circle cx="269.6" cy="125.0" r="2.8" fill="#04366C"/>
<circle cx="270.0" cy="128.6" r="2.8" fill="#04366C"/>
<circle cx="270.3" cy="127.4" r="2.8" fill="#04366C"/>
<circle cx="270.6" cy="127.7" r="2.8" fill="#04366C"/>
<circle cx="270.9" cy="124.5" r="2.8" fill="#04366C"/>
<circle cx="271.2" cy="122.6" r="2.8" fill="#04366C"/>
<circle cx="271.5" cy="124.3" r="2.8" fill="#04366C"/>
<circle cx="271.8" cy="126.6" r="2.8" fill="#04366C"/>
<circle cx="272.1" cy="123.1" r="2.8" fill="#04366C"/>
<circle cx="272.5" cy="128.8" r="2.8" fill="#04366C"/>
<circle cx="272.8" cy="123.0" r="2.8" fill="#04366C"/>
<circle cx="273.1" cy="127.1" r="2.8" fill="#04366C"/>
<circle cx="273.4" cy="130.7" r="2.8" fill="#04366C"/>
<circle cx="273.7" cy="120.3" r="2.8" fill="#04366C"/>
<circle cx="274.0" cy="122.3" r="2.8" fill="#04366C"/>
<circle cx="274.3" cy="127.3" r="2.8" fill="#04366C"/>
<circle cx="274.6" cy="125.0" r="2.8" fill="#04366C"/>
<circle cx="275.0" cy="125.8" r="2.8" fill="#04366C"/>
<circle cx="275.3" cy="125.2" r="2.8" fill="#04366C"/>
<circle cx="275.6" cy="128.2" r="2.8" fill="#04366C"/>
<circle cx="275.9" cy="126.7" r="2.8" fill="#04366C"/>
<circle cx="276.2" cy="124.5" r="2.8" fill="#04366C"/>
<circle cx="276.5" cy="124.9" r="2.8" fill="#04366C"/>
<circle cx="276.8" cy="123.1" r="2.8" fill="#04366C"/>
<circle cx="277.1" cy="125.2" r="2.8" fill="#04366C"/>
<circle cx="277.5" cy="120.9" r="2.8" fill="#04366C"/>
<circle cx="277.8" cy="126.7" r="2.8" fill="#04366C"/>
<circle cx="278.1" cy="124.9" r="2.8" fill="#04366C"/>
<circle cx="278.4" cy="129.0" r="2.8" fill="#04366C"/>
<circle cx="278.7" cy="127.7" r="2.8" fill="#04366C"/>
<circle cx="279.0" cy="122.8" r="2.8" fill="#04366C"/>
<circle cx="279.3" cy="127.2" r="2.8" fill="#04366C"/>
<circle cx="279.6" cy="124.3" r="2.8" fill="#04366C"/>
<circle cx="280.0" cy="125.5" r="2.8" fill="#04366C"/>
<circle cx="280.3" cy="127.3" r="2.8" fill="#04366C"/>
<circle cx="280.6" cy="126.0" r="2.8" fill="#04366C"/>
<circle cx="280.9" cy="126.3" r="2.8" fill="#04366C"/>
<circle cx="281.2" cy="126.3" r="2.8" fill="#04366C"/>
<circle cx="281.5" cy="123.9" r="2.8" fill="#04366C"/>
<circle cx="281.8" cy="124.1" r="2.8" fill="#04366C"/>
<circle cx="282.1" cy="126.5" r="2.8" fill="#04366C"/>
<circle cx="282.4" cy="127.1" r="2.8" fill="#04366C"/>
<circle cx="282.8" cy="124.8" r="2.8" fill="#04366C"/>
<circle cx="283.1" cy="125.5" r="2.8" fill="#04366C"/>
<circle cx="283.4" cy="123.4" r="2.8" fill="#04366C"/>
<circle cx="283.7" cy="120.3" r="2.8" fill="#04366C"/>
<circle cx="284.0" cy="123.7" r="2.8" fill="#04366C"/>
<circle cx="284.3" cy="125.4" r="2.8" fill="#04366C"/>
<circle cx="284.6" cy="125.7" r="2.8" fill="#04366C"/>
<circle cx="284.9" cy="127.0" r="2.8" fill="#04366C"/>
<circle cx="285.3" cy="127.1" r="2.8" fill="#04366C"/>
<circle cx="285.6" cy="127.3" r="2.8" fill="#04366C"/>
<circle cx="285.9" cy="126.1" r="2.8" fill="#04366C"/>
<circle cx="286.2" cy="126.2" r="2.8" fill="#04366C"/>
<circle cx="286.5" cy="123.9" r="2.8" fill="#04366C"/>
<circle cx="286.8" cy="126.1" r="2.8" fill="#04366C"/>
<circle cx="287.1" cy="125.7" r="2.8" fill="#04366C"/>
<circle cx="287.4" cy="127.7" r="2.8" fill="#04366C"/>
<circle cx="287.8" cy="122.2" r="2.8" fill="#04366C"/>
<circle cx="288.1" cy="124.4" r="2.8" fill="#04366C"/>
<circle cx="288.4" cy="121.9" r="2.8" fill="#04366C"/>
<circle cx="288.7" cy="123.8" r="2.8" fill="#04366C"/>
<circle cx="289.0" cy="122.5" r="2.8" fill="#04366C"/>
<circle cx="289.3" cy="125.8" r="2.8" fill="#04366C"/>
<circle cx="289.6" cy="124.0" r="2.8" fill="#04366C"/>
<circle cx="289.9" cy="120.2" r="2.8" fill="#04366C"/>
<circle cx="290.3" cy="127.7" r="2.8" fill="#04366C"/>
<circle cx="290.6" cy="123.1" r="2.8" fill="#04366C"/>
<circle cx="290.9" cy="122.1" r="2.8" fill="#04366C"/>
<circle cx="291.2" cy="124.6" r="2.8" fill="#04366C"/>
<circle cx="291.5" cy="123.9" r="2.8" fill="#04366C"/>
<circle cx="291.8" cy="122.9" r="2.8" fill="#04366C"/>
<circle cx="292.1" cy="126.6" r="2.8" fill="#04366C"/>
<circle cx="292.4" cy="124.6" r="2.8" fill="#04366C"/>
<circle cx="292.8" cy="127.0" r="2.8" fill="#04366C"/>
<circle cx="293.1" cy="126.7" r="2.8" fill="#04366C"/>
<circle cx="293.4" cy="126.6" r="2.8" fill="#04366C"/>
<circle cx="293.7" cy="125.6" r="2.8" fill="#04366C"/>
<circle cx="294.0" cy="125.1" r="2.8" fill="#04366C"/>
<circle cx="294.3" cy="124.5" r="2.8" fill="#04366C"/>
<circle cx="294.6" cy="128.1" r="2.8" fill="#04366C"/>
<circle cx="294.9" cy="121.5" r="2.8" fill="#04366C"/>
<circle cx="295.3" cy="123.1" r="2.8" fill="#04366C"/>
<circle cx="295.6" cy="123.9" r="2.8" fill="#04366C"/>
<circle cx="295.9" cy="126.1" r="2.8" fill="#04366C"/>
<circle cx="296.2" cy="125.5" r="2.8" fill="#04366C"/>
<circle cx="296.5" cy="124.3" r="2.8" fill="#04366C"/>
<circle cx="296.8" cy="124.6" r="2.8" fill="#04366C"/>
<circle cx="297.1" cy="128.6" r="2.8" fill="#04366C"/>
<circle cx="297.4" cy="123.9" r="2.8" fill="#04366C"/>
<circle cx="297.8" cy="119.7" r="2.8" fill="#04366C"/>
<circle cx="298.1" cy="129.0" r="2.8" fill="#04366C"/>
<circle cx="298.4" cy="123.4" r="2.8" fill="#04366C"/>
<circle cx="298.7" cy="124.6" r="2.8" fill="#04366C"/>
<circle cx="299.0" cy="125.6" r="2.8" fill="#04366C"/>
<circle cx="299.3" cy="122.7" r="2.8" fill="#04366C"/>
<circle cx="299.6" cy="127.7" r="2.8" fill="#04366C"/>
<circle cx="299.9" cy="125.0" r="2.8" fill="#04366C"/>
<circle cx="300.3" cy="122.5" r="2.8" fill="#04366C"/>
<circle cx="300.6" cy="125.7" r="2.8" fill="#04366C"/>
<circle cx="300.9" cy="126.2" r="2.8" fill="#04366C"/>
<circle cx="301.2" cy="125.1" r="2.8" fill="#04366C"/>
<circle cx="301.5" cy="126.2" r="2.8" fill="#04366C"/>
<circle cx="301.8" cy="122.3" r="2.8" fill="#04366C"/>
<circle cx="302.1" cy="127.1" r="2.8" fill="#04366C"/>
<circle cx="302.4" cy="123.6" r="2.8" fill="#04366C"/>
<circle cx="302.8" cy="127.8" r="2.8" fill="#04366C"/>
<circle cx="303.1" cy="124.0" r="2.8" fill="#04366C"/>
<circle cx="303.4" cy="125.6" r="2.8" fill="#04366C"/>
<circle cx="303.7" cy="130.4" r="2.8" fill="#04366C"/>
<circle cx="304.0" cy="125.4" r="2.8" fill="#04366C"/>
<circle cx="304.3" cy="127.4" r="2.8" fill="#04366C"/>
<circle cx="304.6" cy="126.2" r="2.8" fill="#04366C"/>
<circle cx="304.9" cy="122.3" r="2.8" fill="#04366C"/>
<circle cx="305.2" cy="127.5" r="2.8" fill="#04366C"/>
<circle cx="305.6" cy="127.4" r="2.8" fill="#04366C"/>
<circle cx="305.9" cy="122.5" r="2.8" fill="#04366C"/>
<circle cx="306.2" cy="125.1" r="2.8" fill="#04366C"/>
<circle cx="306.5" cy="122.3" r="2.8" fill="#04366C"/>
<circle cx="306.8" cy="124.7" r="2.8" fill="#04366C"/>
<circle cx="307.1" cy="127.1" r="2.8" fill="#04366C"/>
<circle cx="307.4" cy="125.5" r="2.8" fill="#04366C"/>
<circle cx="307.7" cy="122.9" r="2.8" fill="#04366C"/>
<circle cx="308.1" cy="123.5" r="2.8" fill="#04366C"/>
<circle cx="308.4" cy="125.4" r="2.8" fill="#04366C"/>
<circle cx="308.7" cy="125.3" r="2.8" fill="#04366C"/>
<circle cx="309.0" cy="125.6" r="2.8" fill="#04366C"/>
<circle cx="309.3" cy="126.5" r="2.8" fill="#04366C"/>
<circle cx="309.6" cy="121.6" r="2.8" fill="#04366C"/>
<circle cx="309.9" cy="125.3" r="2.8" fill="#04366C"/>
<circle cx="310.2" cy="127.6" r="2.8" fill="#04366C"/>
<circle cx="310.6" cy="126.3" r="2.8" fill="#04366C"/>
<circle cx="310.9" cy="123.9" r="2.8" fill="#04366C"/>
<circle cx="311.2" cy="124.1" r="2.8" fill="#04366C"/>
<circle cx="311.5" cy="125.6" r="2.8" fill="#04366C"/>
<circle cx="311.8" cy="126.7" r="2.8" fill="#04366C"/>
<circle cx="312.1" cy="125.3" r="2.8" fill="#04366C"/>
<circle cx="312.4" cy="128.6" r="2.8" fill="#04366C"/>
<circle cx="312.7" cy="127.9" r="2.8" fill="#04366C"/>
<circle cx="313.1" cy="123.8" r="2.8" fill="#04366C"/>
<circle cx="313.4" cy="126.3" r="2.8" fill="#04366C"/>
<circle cx="313.7" cy="124.6" r="2.8" fill="#04366C"/>
<circle cx="314.0" cy="123.0" r="2.8" fill="#04366C"/>
<circle cx="314.3" cy="124.1" r="2.8" fill="#04366C"/>
<circle cx="314.6" cy="125.3" r="2.8" fill="#04366C"/>
<circle cx="314.9" cy="121.2" r="2.8" fill="#04366C"/>
<circle cx="315.2" cy="124.0" r="2.8" fill="#04366C"/>
<circle cx="315.6" cy="126.1" r="2.8" fill="#04366C"/>
<circle cx="315.9" cy="123.9" r="2.8" fill="#04366C"/>
<circle cx="316.2" cy="124.6" r="2.8" fill="#04366C"/>
<circle cx="316.5" cy="127.0" r="2.8" fill="#04366C"/>
<circle cx="316.8" cy="125.2" r="2.8" fill="#04366C"/>
<circle cx="317.1" cy="125.7" r="2.8" fill="#04366C"/>
<circle cx="317.4" cy="129.2" r="2.8" fill="#04366C"/>
<circle cx="317.7" cy="125.7" r="2.8" fill="#04366C"/>
<circle cx="318.1" cy="125.9" r="2.8" fill="#04366C"/>
<circle cx="318.4" cy="126.2" r="2.8" fill="#04366C"/>
<circle cx="318.7" cy="128.6" r="2.8" fill="#04366C"/>
<circle cx="319.0" cy="126.1" r="2.8" fill="#04366C"/>
<circle cx="319.3" cy="125.4" r="2.8" fill="#04366C"/>
<circle cx="319.6" cy="125.2" r="2.8" fill="#04366C"/>
<circle cx="319.9" cy="127.6" r="2.8" fill="#04366C"/>
<circle cx="320.2" cy="124.1" r="2.8" fill="#04366C"/>
<circle cx="320.6" cy="127.7" r="2.8" fill="#04366C"/>
<circle cx="320.9" cy="125.8" r="2.8" fill="#04366C"/>
<circle cx="321.2" cy="122.8" r="2.8" fill="#04366C"/>
<circle cx="321.5" cy="126.7" r="2.8" fill="#04366C"/>
<circle cx="321.8" cy="126.4" r="2.8" fill="#04366C"/>
<circle cx="322.1" cy="123.2" r="2.8" fill="#04366C"/>
<circle cx="322.4" cy="126.1" r="2.8" fill="#04366C"/>
<circle cx="322.7" cy="125.9" r="2.8" fill="#04366C"/>
<circle cx="323.1" cy="124.9" r="2.8" fill="#04366C"/>
<circle cx="323.4" cy="123.3" r="2.8" fill="#04366C"/>
<circle cx="323.7" cy="129.7" r="2.8" fill="#04366C"/>
<circle cx="324.0" cy="127.0" r="2.8" fill="#04366C"/>
<circle cx="324.3" cy="127.3" r="2.8" fill="#04366C"/>
<circle cx="324.6" cy="127.5" r="2.8" fill="#04366C"/>
<circle cx="324.9" cy="127.0" r="2.8" fill="#04366C"/>
<circle cx="325.2" cy="127.0" r="2.8" fill="#04366C"/>
<circle cx="325.5" cy="124.8" r="2.8" fill="#04366C"/>
<circle cx="325.9" cy="127.1" r="2.8" fill="#04366C"/>
<circle cx="326.2" cy="125.1" r="2.8" fill="#04366C"/>
<circle cx="326.5" cy="124.6" r="2.8" fill="#04366C"/>
<circle cx="326.8" cy="126.8" r="2.8" fill="#04366C"/>
<circle cx="327.1" cy="125.1" r="2.8" fill="#04366C"/>
<circle cx="327.4" cy="122.2" r="2.8" fill="#04366C"/>
<circle cx="327.7" cy="124.7" r="2.8" fill="#04366C"/>
<circle cx="328.0" cy="126.6" r="2.8" fill="#04366C"/>
<circle cx="328.4" cy="125.5" r="2.8" fill="#04366C"/>
<circle cx="328.7" cy="127.1" r="2.8" fill="#04366C"/>
<circle cx="329.0" cy="124.8" r="2.8" fill="#04366C"/>
<circle cx="329.3" cy="123.7" r="2.8" fill="#04366C"/>
<circle cx="329.6" cy="127.0" r="2.8" fill="#04366C"/>
<circle cx="329.9" cy="125.8" r="2.8" fill="#04366C"/>
<circle cx="330.2" cy="123.2" r="2.8" fill="#04366C"/>
<circle cx="330.5" cy="126.3" r="2.8" fill="#04366C"/>
<circle cx="330.9" cy="125.0" r="2.8" fill="#04366C"/>
<circle cx="331.2" cy="127.4" r="2.8" fill="#04366C"/>
<circle cx="331.5" cy="127.0" r="2.8" fill="#04366C"/>
<circle cx="331.8" cy="126.4" r="2.8" fill="#04366C"/>
<circle cx="332.1" cy="121.2" r="2.8" fill="#04366C"/>
<circle cx="332.4" cy="126.1" r="2.8" fill="#04366C"/>
<circle cx="332.7" cy="126.4" r="2.8" fill="#04366C"/>
<circle cx="333.0" cy="126.4" r="2.8" fill="#04366C"/>
<circle cx="333.4" cy="125.7" r="2.8" fill="#04366C"/>
<circle cx="333.7" cy="124.1" r="2.8" fill="#04366C"/>
<circle cx="334.0" cy="125.0" r="2.8" fill="#04366C"/>
<circle cx="334.3" cy="121.4" r="2.8" fill="#04366C"/>
<circle cx="334.6" cy="124.9" r="2.8" fill="#04366C"/>
<circle cx="334.9" cy="122.6" r="2.8" fill="#04366C"/>
<circle cx="335.2" cy="124.8" r="2.8" fill="#04366C"/>
<circle cx="335.5" cy="124.2" r="2.8" fill="#04366C"/>
<circle cx="335.9" cy="128.1" r="2.8" fill="#04366C"/>
<circle cx="336.2" cy="125.6" r="2.8" fill="#04366C"/>
<circle cx="121.7" cy="83.9" r="2.8" fill="#04366C"/>
<circle cx="193.3" cy="71.8" r="2.8" fill="#04366C"/>
<circle cx="238.6" cy="44.2" r="2.8" fill="#04366C"/>
<circle cx="283.4" cy="44.8" r="2.8" fill="#04366C"/>
<circle cx="303.6" cy="110.0" r="2.8" fill="#04366C"/>
<circle cx="175.2" cy="114.3" r="2.8" fill="#04366C"/>
<circle cx="305.3" cy="116.8" r="2.8" fill="#04366C"/>
<circle cx="318.0" cy="117.2" r="2.8" fill="#04366C"/>
<circle cx="328.2" cy="116.8" r="2.8" fill="#04366C"/>
<circle cx="333.3" cy="117.2" r="2.8" fill="#04366C"/>
<circle cx="290.0" cy="118.6" r="2.8" fill="#04366C"/>
<circle cx="237.0" cy="119.0" r="2.8" fill="#04366C"/>
<circle cx="259.3" cy="118.0" r="2.8" fill="#04366C"/>
<circle cx="170.1" cy="119.6" r="2.8" fill="#04366C"/>
<circle cx="195.0" cy="119.6" r="2.8" fill="#04366C"/>
<circle cx="306.0" cy="119.5" r="2.8" fill="#04366C"/>
<circle cx="322.0" cy="119.0" r="2.8" fill="#04366C"/>
<circle cx="300.0" cy="120.0" r="2.8" fill="#04366C"/>
<rect x="83.3" y="123.3" width="8.2" height="8.4" rx="2" fill="#BF2422"/>
<path d="M84.2 49.2H89.7L87.0 44.2Z" fill="#F5C446" stroke="#F5C446" stroke-width="1.1" stroke-linejoin="round"/>
<path d="M85.7 49.8H91.2L88.5 44.9Z" fill="#F5C446" stroke="#F5C446" stroke-width="1.1" stroke-linejoin="round"/>
<path d="M84.5 50.7H90.0L87.2 45.7Z" fill="#F5C446" stroke="#F5C446" stroke-width="1.1" stroke-linejoin="round"/>
<path d="M85.8 51.3H91.3L88.5 46.4Z" fill="#F5C446" stroke="#F5C446" stroke-width="1.1" stroke-linejoin="round"/>
<path d="M84.0 52.0H89.5L86.8 47.0Z" fill="#F5C446" stroke="#F5C446" stroke-width="1.1" stroke-linejoin="round"/>
<path d="M85.2 52.5H90.7L88.0 47.6Z" fill="#F5C446" stroke="#F5C446" stroke-width="1.1" stroke-linejoin="round"/>
<path d="M83.2 40.1H89.1L86.2 46.0Z" fill="#7E8189"/>
<path d="M83.5 33.2H89.4L86.4 27.6Z" fill="#000" stroke="#000" stroke-width="1.1" stroke-linejoin="round"/>
<path d="M85.7 35.6H91.6L88.7 30.0Z" fill="#000" stroke="#000" stroke-width="1.1" stroke-linejoin="round"/>
<path d="M83.9 35.3H89.8L86.9 29.7Z" fill="#000" stroke="#000" stroke-width="1.1" stroke-linejoin="round"/>
<path d="M85.3 37.3H91.2L88.3 31.7Z" fill="#000" stroke="#000" stroke-width="1.1" stroke-linejoin="round"/>
<path d="M84.6 39.1H90.5L87.6 33.5Z" fill="#000" stroke="#000" stroke-width="1.1" stroke-linejoin="round"/>
<path d="M83.0 109.3H89.8L86.4 115.7Z" fill="#5E0C5E"/>
<path d="M86.2 113.1L89.6 117.1L86.2 121.1L82.9 117.1Z" fill="#5BB431"/>
<rect x="146.0" y="122.5" width="8.1" height="7.4" rx="2" fill="#BF2422"/>
<path d="M146.6 43.7H152.4L149.5 38.5Z" fill="#F5C446" stroke="#F5C446" stroke-width="1.1" stroke-linejoin="round"/>
<path d="M148.1 44.4H153.9L151.0 39.2Z" fill="#F5C446" stroke="#F5C446" stroke-width="1.1" stroke-linejoin="round"/>
<path d="M146.9 45.2H152.7L149.8 40.0Z" fill="#F5C446" stroke="#F5C446" stroke-width="1.1" stroke-linejoin="round"/>
<path d="M148.2 45.9H154.0L151.1 40.7Z" fill="#F5C446" stroke="#F5C446" stroke-width="1.1" stroke-linejoin="round"/>
<path d="M146.4 46.6H152.2L149.3 41.4Z" fill="#F5C446" stroke="#F5C446" stroke-width="1.1" stroke-linejoin="round"/>
<path d="M147.6 47.1H153.4L150.5 41.9Z" fill="#F5C446" stroke="#F5C446" stroke-width="1.1" stroke-linejoin="round"/>
<path d="M146.0 40.1H151.9L148.9 45.6Z" fill="#7E8189"/>
<path d="M145.8 30.3H152.0L148.9 24.4Z" fill="#000" stroke="#000" stroke-width="1.1" stroke-linejoin="round"/>
<path d="M148.2 32.3H154.4L151.3 26.4Z" fill="#000" stroke="#000" stroke-width="1.1" stroke-linejoin="round"/>
<path d="M146.3 32.0H152.5L149.4 26.1Z" fill="#000" stroke="#000" stroke-width="1.1" stroke-linejoin="round"/>
<path d="M147.8 33.7H154.0L150.9 27.8Z" fill="#000" stroke="#000" stroke-width="1.1" stroke-linejoin="round"/>
<path d="M147.0 35.2H153.2L150.1 29.3Z" fill="#000" stroke="#000" stroke-width="1.1" stroke-linejoin="round"/>
<path d="M145.6 105.2H152.2L148.9 112.2Z" fill="#5E0C5E"/>
<path d="M148.9 116.5L152.6 119.8L148.9 123.1L145.2 119.8Z" fill="#5BB431"/>
<rect x="208.7" y="121.5" width="7.8" height="10.2" rx="2" fill="#BF2422"/>
<path d="M209.0 45.0H214.8L211.9 39.8Z" fill="#F5C446" stroke="#F5C446" stroke-width="1.1" stroke-linejoin="round"/>
<path d="M210.5 45.8H216.3L213.4 40.6Z" fill="#F5C446" stroke="#F5C446" stroke-width="1.1" stroke-linejoin="round"/>
<path d="M209.3 46.9H215.1L212.2 41.6Z" fill="#F5C446" stroke="#F5C446" stroke-width="1.1" stroke-linejoin="round"/>
<path d="M210.6 47.7H216.4L213.5 42.5Z" fill="#F5C446" stroke="#F5C446" stroke-width="1.1" stroke-linejoin="round"/>
<path d="M208.8 48.5H214.6L211.7 43.3Z" fill="#F5C446" stroke="#F5C446" stroke-width="1.1" stroke-linejoin="round"/>
<path d="M210.0 49.1H215.8L212.9 43.9Z" fill="#F5C446" stroke="#F5C446" stroke-width="1.1" stroke-linejoin="round"/>
<path d="M208.8 38.2H213.9L211.3 45.7Z" fill="#7E8189"/>
<path d="M208.7 33.5H214.5L211.6 28.0Z" fill="#000" stroke="#000" stroke-width="1.1" stroke-linejoin="round"/>
<path d="M210.9 35.0H216.7L213.8 29.5Z" fill="#000" stroke="#000" stroke-width="1.1" stroke-linejoin="round"/>
<path d="M209.1 34.8H214.9L212.0 29.3Z" fill="#000" stroke="#000" stroke-width="1.1" stroke-linejoin="round"/>
<path d="M210.5 36.1H216.3L213.4 30.6Z" fill="#000" stroke="#000" stroke-width="1.1" stroke-linejoin="round"/>
<path d="M209.8 37.2H215.6L212.7 31.7Z" fill="#000" stroke="#000" stroke-width="1.1" stroke-linejoin="round"/>
<path d="M208.3 108.1H214.6L211.4 115.7Z" fill="#5E0C5E"/>
<path d="M211.4 115.8L215.0 119.5L211.4 123.2L207.9 119.5Z" fill="#5BB431"/>
<rect x="270.7" y="120.1" width="8.1" height="9.5" rx="2" fill="#BF2422"/>
<path d="M271.6 41.3H277.7L274.6 35.8Z" fill="#F5C446" stroke="#F5C446" stroke-width="1.1" stroke-linejoin="round"/>
<path d="M273.1 42.6H279.2L276.1 37.1Z" fill="#F5C446" stroke="#F5C446" stroke-width="1.1" stroke-linejoin="round"/>
<path d="M271.9 44.3H278.0L274.9 38.8Z" fill="#F5C446" stroke="#F5C446" stroke-width="1.1" stroke-linejoin="round"/>
<path d="M273.2 45.6H279.3L276.2 40.1Z" fill="#F5C446" stroke="#F5C446" stroke-width="1.1" stroke-linejoin="round"/>
<path d="M271.4 46.9H277.5L274.4 41.4Z" fill="#F5C446" stroke="#F5C446" stroke-width="1.1" stroke-linejoin="round"/>
<path d="M272.6 47.9H278.7L275.6 42.4Z" fill="#F5C446" stroke="#F5C446" stroke-width="1.1" stroke-linejoin="round"/>
<path d="M270.3 36.8H276.5L273.4 43.6Z" fill="#7E8189"/>
<path d="M271.5 35.0H276.3L273.9 30.4Z" fill="#000" stroke="#000" stroke-width="1.1" stroke-linejoin="round"/>
<path d="M271.5 35.8H276.3L273.9 31.2Z" fill="#000" stroke="#000" stroke-width="1.1" stroke-linejoin="round"/>
<path d="M270.6 111.0H277.2L273.9 117.2Z" fill="#5E0C5E"/>
<path d="M273.9 113.5L277.6 117.7L273.9 121.8L270.2 117.7Z" fill="#5BB431"/>
<g font-family='"Liberation Sans", sans-serif' font-weight="bold" font-size="12.5" fill="#000" text-anchor="end">
<text x="78.5" y="175.6">0</text>
<text x="78.5" y="122.6">100</text>
<text x="78.5" y="69.6">200</text>
<text x="78.5" y="16.6">300</text>
</g>
<g font-family='"Liberation Sans", sans-serif' font-weight="bold" font-size="12.5" fill="#000" text-anchor="middle">
<text x="86.0" y="190">0</text>
<text x="183.6" y="190">500</text>
<text x="281.2" y="190">1000</text>
<text x="213.5" y="208">Compound #</text>
<text transform="translate(50.5 90.8) rotate(-90)" font-size="13.1">mP</text>
</g>
<text x="6.3" y="19.8" font-family='"Liberation Sans", sans-serif' font-size="15.4" fill="#000" stroke="#000" stroke-width="0.5">A.</text>
<g font-family='"Liberation Sans", sans-serif' font-size="6.85" fill="#000" stroke="#000" stroke-width="0.22">
<text transform="translate(397.6 36.9) scale(1 1.12)">Test Compounds</text>
<text transform="translate(397.6 49.4) scale(1 1.12)">No Inhibition Control</text>
<text transform="translate(397.6 62.0) scale(1 1.12)">No Enzyme Control</text>
<text transform="translate(397.6 74.5) scale(1 1.12)">Control Compound 1</text>
<text transform="translate(397.6 87.0) scale(1 1.12)">Control Compound 2</text>
</g>
<circle cx="382.5" cy="34.7" r="3.1" fill="#04366C"/>
<rect x="379.5" y="44.3" width="6" height="6" fill="#BF2422"/>
<path d="M379.2 62.3H385.8L382.5 56.7Z" fill="#F5C446"/>
<path d="M379.2 69.5H385.8L382.5 75.1Z" fill="#7E8189"/>
<path d="M382.5 81.8L385.5 84.8L382.5 87.8L379.5 84.8Z" fill="#5BB431"/>
<g font-family='"Liberation Sans", sans-serif' font-size="6.85" fill="#000" stroke="#000" stroke-width="0.22">
<text transform="translate(396 124.1) scale(1 1.12)">Test Compounds (Interference)</text>
<text transform="translate(396 136.5) scale(1 1.12)">No Inhibition Control (Interference)</text>
<text transform="translate(396 149.0) scale(1 1.12)">No Enzyme Control (Interference)</text>
<text transform="translate(396 161.4) scale(1 1.12)">Control Compound 1 (Interference)</text>
<text transform="translate(396 173.8) scale(1 1.12)">Control Compound 2 (Interference)</text>
</g>
<circle cx="381.3" cy="122.0" r="2.3" fill="none" stroke="#E2742F" stroke-width="1.5"/>
<rect x="378.8" y="132.2" width="5" height="5" fill="none" stroke="#9E6B2E" stroke-width="1.5"/>
<path d="M378.9 148.9H383.7L381.3 144.6Z" fill="none" stroke="#000" stroke-width="1.5"/>
<path d="M378.9 157.3H383.7L381.3 161.6Z" fill="none" stroke="#5E0C5E" stroke-width="1.5"/>
<path d="M381.3 169.2L383.7 171.6L381.3 174.0L378.9 171.6Z" fill="none" stroke="#A3151C" stroke-width="1.5"/>
<polyline points="130.60,379.28 131.88,379.03 133.16,378.75 134.44,378.45 135.73,378.11 137.01,377.73 138.29,377.31 139.57,376.85 140.85,376.33 142.13,375.76 143.42,375.12 144.70,374.42 145.98,373.64 147.26,372.77 148.54,371.81 149.82,370.75 151.11,369.58 152.39,368.29 153.67,366.87 154.95,365.30 156.23,363.57 157.51,361.67 158.80,359.59 160.08,357.32 161.36,354.84 162.64,352.15 163.92,349.22 165.20,346.06 166.49,342.66 167.77,339.02 169.05,335.14 170.33,331.04 171.61,326.71 172.89,322.18 174.18,317.49 175.46,312.65 176.74,307.71 178.02,302.70 179.30,297.68 180.58,292.70 181.87,287.79 183.15,283.00 184.43,278.38 185.71,273.97 186.99,269.78 188.27,265.86 189.56,262.20 190.84,258.83 192.12,255.73 193.40,252.92 194.68,250.37 195.96,248.09 197.25,246.04 198.53,244.22 199.81,242.61 201.09,241.19 202.37,239.94 203.65,238.84 204.94,237.88 206.22,237.04 207.50,236.31 208.78,235.68 210.06,235.13 211.34,234.65 212.63,234.24 213.91,233.88 215.19,233.57 216.47,233.31 217.75,233.08 219.03,232.88 220.32,232.71 221.60,232.56 222.88,232.43 224.16,232.32 225.44,232.23 226.72,232.15 228.01,232.08 229.29,232.02 230.57,231.97 231.85,231.92" fill="none" stroke="#04366C" stroke-width="1.1"/>
<polyline points="175.90,379.31 177.18,379.12 178.46,378.91 179.74,378.68 181.03,378.43 182.31,378.16 183.59,377.86 184.87,377.54 186.15,377.20 187.43,376.82 188.72,376.40 190.00,375.96 191.28,375.47 192.56,374.94 193.84,374.36 195.12,373.73 196.41,373.05 197.69,372.31 198.97,371.50 200.25,370.62 201.53,369.67 202.81,368.63 204.10,367.51 205.38,366.29 206.66,364.96 207.94,363.53 209.22,361.97 210.50,360.28 211.79,358.45 213.07,356.47 214.35,354.34 215.63,352.03 216.91,349.55 218.19,346.88 219.48,344.01 220.76,340.94 222.04,337.66 223.32,334.17 224.60,330.46 225.88,326.54 227.17,322.43 228.45,318.12 229.73,313.64 231.01,309.02 232.29,304.27 233.57,299.45 234.86,294.58 236.14,289.72 237.42,284.91 238.70,280.20 239.98,275.63 241.26,271.25 242.55,267.10 243.83,263.20 245.11,259.57 246.39,256.24 247.67,253.20 248.95,250.45 250.24,247.99 251.52,245.80 252.80,243.86 254.08,242.15 255.36,240.67 256.64,239.37 257.93,238.25 259.21,237.28 260.49,236.45 261.77,235.73 263.05,235.12 264.33,234.60 265.62,234.15 266.90,233.77 268.18,233.45 269.46,233.17 270.74,232.94 272.02,232.74 273.31,232.57 274.59,232.43 275.87,232.31 277.15,232.21" fill="none" stroke="#BF2422" stroke-width="1.1"/>
<path d="M157.6 352.4V363.5M154.6 352.4H160.6M154.6 363.5H160.6" stroke="#04366C" stroke-width="1" fill="none"/>
<path d="M164.3 348.2V355.9M161.3 348.2H167.3M161.3 355.9H167.3" stroke="#04366C" stroke-width="1" fill="none"/>
<path d="M171.1 325.0V330.0M168.1 325.0H174.1M168.1 330.0H174.1" stroke="#04366C" stroke-width="1" fill="none"/>
<path d="M177.8 300.0V305.0M174.8 300.0H180.8M174.8 305.0H180.8" stroke="#04366C" stroke-width="1" fill="none"/>
<path d="M209.7 359.4V377.9M206.7 359.4H212.7M206.7 377.9H212.7" stroke="#BF2422" stroke-width="1" fill="none"/>
<path d="M223.2 328.5V334.0M220.2 328.5H226.2M220.2 334.0H226.2" stroke="#BF2422" stroke-width="1" fill="none"/>
<circle cx="130.6" cy="378.2" r="3.5" fill="#04366C"/>
<circle cx="137.3" cy="379.8" r="3.5" fill="#04366C"/>
<circle cx="144.1" cy="369.4" r="3.5" fill="#04366C"/>
<circle cx="150.8" cy="370.8" r="3.5" fill="#04366C"/>
<circle cx="157.6" cy="357.9" r="3.5" fill="#04366C"/>
<circle cx="164.3" cy="352.0" r="3.5" fill="#04366C"/>
<circle cx="171.1" cy="327.4" r="3.5" fill="#04366C"/>
<circle cx="177.8" cy="302.4" r="3.5" fill="#04366C"/>
<circle cx="184.6" cy="273.8" r="3.5" fill="#04366C"/>
<circle cx="191.3" cy="259.2" r="3.5" fill="#04366C"/>
<circle cx="198.1" cy="246.3" r="3.5" fill="#04366C"/>
<circle cx="204.8" cy="238.6" r="3.5" fill="#04366C"/>
<circle cx="211.6" cy="234.2" r="3.5" fill="#04366C"/>
<circle cx="218.3" cy="233.6" r="3.5" fill="#04366C"/>
<circle cx="225.1" cy="232.0" r="3.5" fill="#04366C"/>
<circle cx="231.8" cy="231.6" r="3.5" fill="#04366C"/>
<rect x="172.2" y="373.9" width="7.4" height="7.4" fill="#BF2422"/>
<rect x="179.0" y="374.2" width="7.4" height="7.4" fill="#BF2422"/>
<rect x="185.7" y="370.4" width="7.4" height="7.4" fill="#BF2422"/>
<rect x="192.5" y="366.7" width="7.4" height="7.4" fill="#BF2422"/>
<rect x="199.2" y="365.9" width="7.4" height="7.4" fill="#BF2422"/>
<rect x="206.0" y="364.5" width="7.4" height="7.4" fill="#BF2422"/>
<rect x="212.7" y="342.4" width="7.4" height="7.4" fill="#BF2422"/>
<rect x="219.5" y="327.5" width="7.4" height="7.4" fill="#BF2422"/>
<rect x="226.2" y="310.6" width="7.4" height="7.4" fill="#BF2422"/>
<rect x="233.0" y="284.5" width="7.4" height="7.4" fill="#BF2422"/>
<rect x="239.7" y="260.8" width="7.4" height="7.4" fill="#BF2422"/>
<rect x="246.5" y="246.6" width="7.4" height="7.4" fill="#BF2422"/>
<rect x="253.2" y="235.5" width="7.4" height="7.4" fill="#BF2422"/>
<rect x="259.9" y="227.9" width="7.4" height="7.4" fill="#BF2422"/>
<rect x="266.7" y="227.9" width="7.4" height="7.4" fill="#BF2422"/>
<rect x="273.4" y="227.9" width="7.4" height="7.4" fill="#BF2422"/>
<g stroke="#000" stroke-width="1.6" fill="none">
<path d="M97.3 231.6V387.3"/>
<path d="M91 381.5H322.6"/>
<path d="M91 381.5H97.3"/>
<path d="M91 351.5H97.3"/>
<path d="M91 321.6H97.3"/>
<path d="M91 291.6H97.3"/>
<path d="M91 261.6H97.3"/>
<path d="M91 231.7H97.3"/>
<path d="M104.06 381.5V385.7"/>
<path d="M108.01 381.5V385.7"/>
<path d="M110.82 381.5V385.7"/>
<path d="M112.99 381.5V385.7"/>
<path d="M114.77 381.5V385.7"/>
<path d="M116.27 381.5V385.7"/>
<path d="M117.57 381.5V385.7"/>
<path d="M118.72 381.5V385.7"/>
<path d="M126.51 381.5V385.7"/>
<path d="M130.46 381.5V385.7"/>
<path d="M133.27 381.5V385.7"/>
<path d="M135.44 381.5V385.7"/>
<path d="M137.22 381.5V385.7"/>
<path d="M138.72 381.5V385.7"/>
<path d="M140.02 381.5V385.7"/>
<path d="M141.17 381.5V385.7"/>
<path d="M148.96 381.5V385.7"/>
<path d="M152.91 381.5V385.7"/>
<path d="M155.72 381.5V385.7"/>
<path d="M157.89 381.5V385.7"/>
<path d="M159.67 381.5V385.7"/>
<path d="M161.17 381.5V385.7"/>
<path d="M162.47 381.5V385.7"/>
<path d="M163.62 381.5V385.7"/>
<path d="M171.41 381.5V385.7"/>
<path d="M175.36 381.5V385.7"/>
<path d="M178.17 381.5V385.7"/>
<path d="M180.34 381.5V385.7"/>
<path d="M182.12 381.5V385.7"/>
<path d="M183.62 381.5V385.7"/>
<path d="M184.92 381.5V385.7"/>
<path d="M186.07 381.5V385.7"/>
<path d="M193.86 381.5V385.7"/>
<path d="M197.81 381.5V385.7"/>
<path d="M200.62 381.5V385.7"/>
<path d="M202.79 381.5V385.7"/>
<path d="M204.57 381.5V385.7"/>
<path d="M206.07 381.5V385.7"/>
<path d="M207.37 381.5V385.7"/>
<path d="M208.52 381.5V385.7"/>
<path d="M216.31 381.5V385.7"/>
<path d="M220.26 381.5V385.7"/>
<path d="M223.07 381.5V385.7"/>
<path d="M225.24 381.5V385.7"/>
<path d="M227.02 381.5V385.7"/>
<path d="M228.52 381.5V385.7"/>
<path d="M229.82 381.5V385.7"/>
<path d="M230.97 381.5V385.7"/>
<path d="M238.76 381.5V385.7"/>
<path d="M242.71 381.5V385.7"/>
<path d="M245.52 381.5V385.7"/>
<path d="M247.69 381.5V385.7"/>
<path d="M249.47 381.5V385.7"/>
<path d="M250.97 381.5V385.7"/>
<path d="M252.27 381.5V385.7"/>
<path d="M253.42 381.5V385.7"/>
<path d="M261.21 381.5V385.7"/>
<path d="M265.16 381.5V385.7"/>
<path d="M267.97 381.5V385.7"/>
<path d="M270.14 381.5V385.7"/>
<path d="M271.92 381.5V385.7"/>
<path d="M273.42 381.5V385.7"/>
<path d="M274.72 381.5V385.7"/>
<path d="M275.87 381.5V385.7"/>
<path d="M283.66 381.5V385.7"/>
<path d="M287.61 381.5V385.7"/>
<path d="M290.42 381.5V385.7"/>
<path d="M292.59 381.5V385.7"/>
<path d="M294.37 381.5V385.7"/>
<path d="M295.87 381.5V385.7"/>
<path d="M297.17 381.5V385.7"/>
<path d="M298.32 381.5V385.7"/>
<path d="M306.11 381.5V385.7"/>
<path d="M310.06 381.5V385.7"/>
<path d="M312.87 381.5V385.7"/>
<path d="M315.04 381.5V385.7"/>
<path d="M316.82 381.5V385.7"/>
<path d="M318.32 381.5V385.7"/>
<path d="M319.62 381.5V385.7"/>
<path d="M320.77 381.5V385.7"/>
<path d="M97.30 381.5V387.3"/>
<path d="M119.75 381.5V387.3"/>
<path d="M142.20 381.5V387.3"/>
<path d="M164.65 381.5V387.3"/>
<path d="M187.10 381.5V387.3"/>
<path d="M209.55 381.5V387.3"/>
<path d="M232.00 381.5V387.3"/>
<path d="M254.45 381.5V387.3"/>
<path d="M276.90 381.5V387.3"/>
<path d="M299.35 381.5V387.3"/>
<path d="M321.80 381.5V387.3"/>
</g>
<g font-family='"Liberation Sans", sans-serif' font-weight="bold" font-size="10.5" fill="#000" text-anchor="end">
<text x="88.8" y="385.3">0</text>
<text x="88.8" y="355.3">20</text>
<text x="88.8" y="325.4">40</text>
<text x="88.8" y="295.4">60</text>
<text x="88.8" y="265.4">80</text>
<text x="88.8" y="235.5">100</text>
<text font-size="11.2" transform="translate(100.1 398.6) rotate(-45)">0.000001</text>
<text font-size="11.2" transform="translate(122.5 398.6) rotate(-45)">0.00001</text>
<text font-size="11.2" transform="translate(145.0 398.6) rotate(-45)">0.0001</text>
<text font-size="11.2" transform="translate(167.4 398.6) rotate(-45)">0.001</text>
<text font-size="11.2" transform="translate(189.9 398.6) rotate(-45)">0.01</text>
<text font-size="11.2" transform="translate(212.4 398.6) rotate(-45)">0.1</text>
<text font-size="11.2" transform="translate(234.8 398.6) rotate(-45)">1</text>
<text font-size="11.2" transform="translate(257.2 398.6) rotate(-45)">10</text>
<text font-size="11.2" transform="translate(279.7 398.6) rotate(-45)">100</text>
<text font-size="11.2" transform="translate(302.1 398.6) rotate(-45)">1000</text>
<text font-size="11.2" transform="translate(324.6 398.6) rotate(-45)">10000</text>
</g>
<g font-family='"Liberation Sans", sans-serif' font-weight="bold" font-size="12" fill="#000" text-anchor="middle">
<text x="209.5" y="437" font-size="12.7">Inhibitor, µM</text>
<text transform="translate(63.6 305) rotate(-90)" font-size="12.3">% inhibition</text>
</g>
<text x="6.8" y="234.8" font-family='"Liberation Sans", sans-serif' font-size="15.4" fill="#000" stroke="#000" stroke-width="0.5">B.</text>
<path d="M323 241.4H339.1" stroke="#04366C" stroke-width="1.7"/>
<circle cx="330.9" cy="241.4" r="3.5" fill="#04366C"/>
<path d="M323 261.4H339.1" stroke="#BF2422" stroke-width="1.3"/>
<rect x="327.4" y="257.9" width="7" height="7" fill="#BF2422"/>
<g font-family='"Liberation Sans", sans-serif' font-size="12" fill="#000"><text x="348" y="245.6">78c</text><text x="348" y="265.4">SU9516</text></g>
</svg></body></html>
